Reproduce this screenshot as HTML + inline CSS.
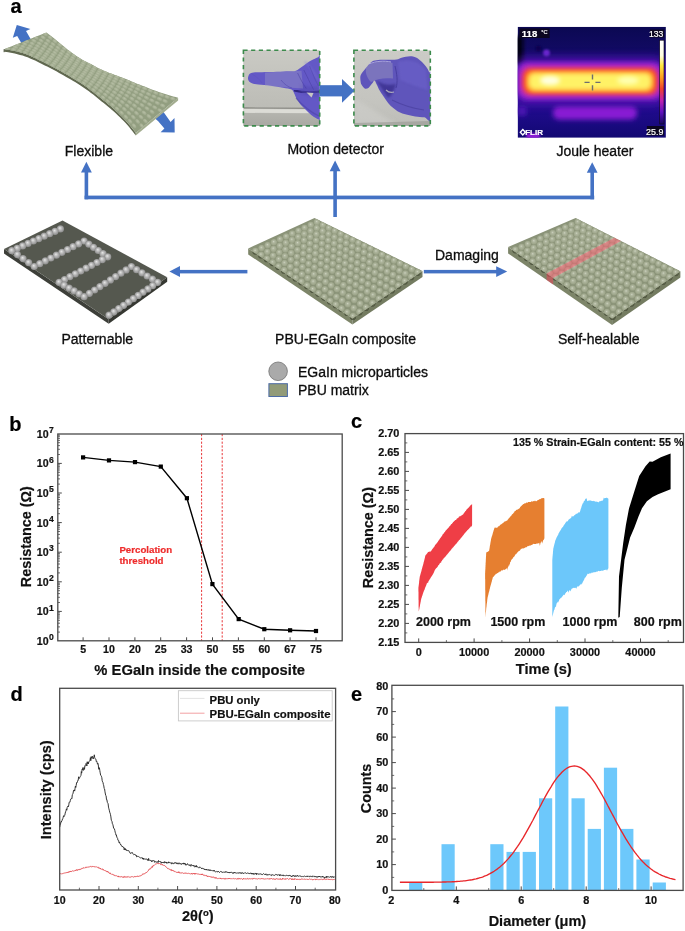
<!DOCTYPE html>
<html><head><meta charset="utf-8"><style>
html,body{margin:0;padding:0;background:#fff;}
svg{display:block;font-family:"Liberation Sans",sans-serif;will-change:transform;}
</style></head><body>
<svg width="685" height="931" viewBox="0 0 685 931">
<defs>
<radialGradient id="gball" cx="0.5" cy="0.5" r="0.55" fx="0.42" fy="0.36"><stop offset="0" stop-color="#e8e8e8"/><stop offset="0.45" stop-color="#b8b8b8"/><stop offset="1" stop-color="#858585"/></radialGradient>
<radialGradient id="gsage" cx="0.5" cy="0.5" r="0.55" fx="0.45" fy="0.38"><stop offset="0" stop-color="#cdd2c0"/><stop offset="0.3" stop-color="#b0b79f"/><stop offset="0.75" stop-color="#9ea68b"/><stop offset="1" stop-color="#8e967b"/></radialGradient>
<linearGradient id="gphoto" x1="0" y1="0" x2="0" y2="1"><stop offset="0" stop-color="#cbcbc6"/><stop offset="0.7" stop-color="#c4c4bf"/><stop offset="1" stop-color="#bdbdb8"/></linearGradient>
<linearGradient id="gthbg" x1="0" y1="0" x2="0" y2="1"><stop offset="0" stop-color="#0b0852"/><stop offset="0.2" stop-color="#110a62"/><stop offset="0.32" stop-color="#1e0a80"/><stop offset="0.65" stop-color="#260c96"/><stop offset="0.85" stop-color="#1a0a82"/><stop offset="1" stop-color="#120872"/></linearGradient>
<linearGradient id="gbar" x1="0" y1="0" x2="0" y2="1"><stop offset="0" stop-color="#ffffff"/><stop offset="0.18" stop-color="#fffde0"/><stop offset="0.3" stop-color="#ffe840"/><stop offset="0.45" stop-color="#ff9a20"/><stop offset="0.58" stop-color="#f04030"/><stop offset="0.72" stop-color="#c020b0"/><stop offset="0.86" stop-color="#6010c0"/><stop offset="1" stop-color="#180860"/></linearGradient>
<linearGradient id="gph1top" x1="0" y1="0" x2="0" y2="1"><stop offset="0" stop-color="#cacac4"/><stop offset="1" stop-color="#bcbcb6"/></linearGradient>
<linearGradient id="gph1bot" x1="0" y1="0" x2="0" y2="1"><stop offset="0" stop-color="#b4b4ae"/><stop offset="1" stop-color="#a8a8a2"/></linearGradient>
<radialGradient id="grib" cx="0.45" cy="0.4" r="0.6"><stop offset="0" stop-color="#b6bea4"/><stop offset="1" stop-color="#9aa588"/></radialGradient>
<radialGradient id="gsside" cx="0.5" cy="0.5" r="0.5" fx="0.5" fy="0.25"><stop offset="0" stop-color="#7a8268"/><stop offset="0.7" stop-color="#5e654c"/><stop offset="1" stop-color="#4c523d"/></radialGradient>
<filter id="blur03" x="-20%" y="-20%" width="140%" height="140%"><feGaussianBlur stdDeviation="0.35"/></filter>
<filter id="blur05" x="-20%" y="-20%" width="140%" height="140%"><feGaussianBlur stdDeviation="0.5"/></filter>
<filter id="blur1" x="-50%" y="-50%" width="200%" height="200%"><feGaussianBlur stdDeviation="1"/></filter>
<filter id="blur25" x="-50%" y="-50%" width="200%" height="200%"><feGaussianBlur stdDeviation="2.6"/></filter>
<filter id="blur4" x="-50%" y="-50%" width="200%" height="200%"><feGaussianBlur stdDeviation="4"/></filter>
<filter id="blur2" x="-50%" y="-50%" width="200%" height="200%"><feGaussianBlur stdDeviation="2"/></filter>
</defs>
<rect width="685" height="931" fill="#fff"/>
<text x="10.6" y="13.2" font-size="20" font-weight="bold" text-anchor="start" fill="#000"  stroke="#000" stroke-width="0.2">a</text>
<rect x="84.6" y="195.6" width="509.6" height="3.7" fill="#4472c4" />
<rect x="84.6" y="170.8" width="3.6" height="28.5" fill="#4472c4" />
<polygon points="86.4,161.8 81.0,172.4 91.8,172.4" fill="#4472c4" />
<rect x="333.3" y="169.6" width="3.6" height="47.4" fill="#4472c4" />
<polygon points="335.1,160.6 329.7,171.2 340.5,171.2" fill="#4472c4" />
<rect x="590.4" y="171.2" width="3.6" height="28.1" fill="#4472c4" />
<polygon points="592.2,162.2 586.8,172.8 597.6,172.8" fill="#4472c4" />
<rect x="178.0" y="269.9" width="69.4" height="3.5" fill="#4472c4" />
<polygon points="169.4,271.6 180.0,266.0 180.0,277.0" fill="#4472c4" />
<rect x="423.8" y="269.9" width="73.4" height="3.5" fill="#4472c4" />
<polygon points="507.2,271.6 496.2,266.2 496.2,277.0" fill="#4472c4" />
<text x="64.8" y="155.9" font-size="14" font-weight="normal" text-anchor="start" fill="#0d0d0d" stroke="#0d0d0d" stroke-width="0.3">Flexible</text>
<text x="287.4" y="153.8" font-size="14" font-weight="normal" text-anchor="start" fill="#0d0d0d" stroke="#0d0d0d" stroke-width="0.3">Motion detector</text>
<text x="556.4" y="155.5" font-size="14" font-weight="normal" text-anchor="start" fill="#0d0d0d" stroke="#0d0d0d" stroke-width="0.3">Joule heater</text>
<text x="435.0" y="259.6" font-size="14" font-weight="normal" text-anchor="start" fill="#0d0d0d" stroke="#0d0d0d" stroke-width="0.3">Damaging</text>
<text x="61.5" y="344.1" font-size="14" font-weight="normal" text-anchor="start" fill="#0d0d0d" stroke="#0d0d0d" stroke-width="0.3">Patternable</text>
<text x="275.1" y="344.2" font-size="14" font-weight="normal" text-anchor="start" fill="#0d0d0d" stroke="#0d0d0d" stroke-width="0.3">PBU-EGaIn composite</text>
<text x="557.9" y="343.8" font-size="14" font-weight="normal" text-anchor="start" fill="#0d0d0d" stroke="#0d0d0d" stroke-width="0.3">Self-healable</text>
<text x="298.0" y="377.0" font-size="14" font-weight="normal" text-anchor="start" fill="#0d0d0d" stroke="#0d0d0d" stroke-width="0.3">EGaIn microparticles</text>
<text x="298.0" y="394.9" font-size="14" font-weight="normal" text-anchor="start" fill="#0d0d0d" stroke="#0d0d0d" stroke-width="0.3">PBU matrix</text>
<circle cx="278.1" cy="371.3" r="9.3" fill="#aaaaaa" stroke="#727272" stroke-width="0.8"/>
<rect x="268.9" y="383.7" width="18.5" height="12.8" fill="#929b78" stroke="#4d6ca6" stroke-width="1"/>
<polygon points="16.8,25.1 30.4,29.1 26.0,31.0 31.5,40.5 22.5,45.0 17.2,35.9 12.8,37.8" fill="#4472c4" />
<polygon points="155.0,118.5 163.5,112.0 170.6,121.9 174.5,118.1 174.7,132.6 160.6,132.3 164.4,128.4 158.0,121.0" fill="#4472c4" />
<polygon points="4.1,49.2 6.8,49.5 9.5,50.0 12.2,50.5 14.8,51.0 17.4,51.6 20.0,52.3 22.6,53.0 25.1,53.8 27.6,54.7 30.1,55.8 32.6,56.9 35.1,58.0 37.5,59.2 39.9,60.4 42.4,61.6 44.8,62.8 47.2,64.0 49.6,65.2 52.0,66.4 54.4,67.7 56.8,69.0 59.1,70.3 61.5,71.6 63.8,72.9 66.2,74.3 68.5,75.6 70.8,77.0 73.2,78.4 75.5,79.7 77.8,81.2 80.1,82.6 82.3,84.1 84.5,85.6 86.7,87.1 88.9,88.7 91.0,90.4 93.2,92.0 95.3,93.7 97.4,95.4 99.5,97.1 101.6,98.8 103.7,100.5 105.8,102.1 107.9,103.9 110.0,105.6 112.0,107.3 114.1,109.1 116.0,110.9 118.0,112.8 119.9,114.7 121.8,116.6 123.7,118.5 125.6,120.5 127.4,122.5 129.1,124.5 130.8,126.6 132.5,128.7 134.2,130.8 135.8,133.0 135.8,135.6 134.2,133.4 132.5,131.3 130.8,129.2 129.1,127.1 127.4,125.1 125.6,123.1 123.7,121.1 121.8,119.2 119.9,117.3 118.0,115.4 116.0,113.5 114.1,111.7 112.0,109.9 110.0,108.2 107.9,106.5 105.8,104.7 103.7,103.1 101.6,101.4 99.5,99.7 97.4,98.0 95.3,96.3 93.2,94.6 91.0,93.0 88.9,91.3 86.7,89.7 84.5,88.2 82.3,86.7 80.1,85.2 77.8,83.8 75.5,82.3 73.2,81.0 70.8,79.6 68.5,78.2 66.2,76.9 63.8,75.5 61.5,74.2 59.1,72.9 56.8,71.6 54.4,70.3 52.0,69.0 49.6,67.8 47.2,66.6 44.8,65.4 42.4,64.2 39.9,63.0 37.5,61.8 35.1,60.6 32.6,59.5 30.1,58.4 27.6,57.3 25.1,56.4 22.6,55.6 20.0,54.9 17.4,54.2 14.8,53.6 12.2,53.1 9.5,52.6 6.8,52.1 4.1,51.8" fill="#60684f" />
<polygon points="135.8,133.0 178.1,97.7 178.1,100.6 135.8,135.6" fill="#a3ad8f" />
<polygon points="46.4,32.4 48.4,33.9 50.4,35.5 52.3,37.1 54.3,38.6 56.3,40.2 58.2,41.8 60.2,43.4 62.1,45.0 64.0,46.6 66.0,48.2 67.9,49.8 69.9,51.3 71.9,52.8 74.0,54.3 76.0,55.7 78.1,57.1 80.3,58.5 82.4,59.8 84.6,60.9 86.9,62.1 89.2,63.2 91.4,64.3 93.6,65.4 95.8,66.7 98.0,68.0 100.2,69.1 102.5,70.1 104.8,71.1 107.2,72.0 109.5,72.9 111.9,73.8 114.3,74.7 116.6,75.5 119.0,76.4 121.3,77.3 123.7,78.2 126.0,79.1 128.3,80.1 130.7,81.0 133.0,82.0 135.3,82.9 137.7,83.9 140.0,84.8 142.3,85.7 144.7,86.6 147.0,87.6 149.4,88.5 151.7,89.4 154.1,90.3 156.4,91.1 158.8,92.0 161.2,92.8 163.6,93.5 166.0,94.3 168.4,95.0 170.8,95.7 173.2,96.4 175.7,97.1 178.1,97.7 135.8,133.0 134.2,130.8 132.5,128.7 130.8,126.6 129.1,124.5 127.4,122.5 125.6,120.5 123.7,118.5 121.8,116.6 119.9,114.7 118.0,112.8 116.0,110.9 114.1,109.1 112.0,107.3 110.0,105.6 107.9,103.9 105.8,102.1 103.7,100.5 101.6,98.8 99.5,97.1 97.4,95.4 95.3,93.7 93.2,92.0 91.0,90.4 88.9,88.7 86.7,87.1 84.5,85.6 82.3,84.1 80.1,82.6 77.8,81.2 75.5,79.7 73.2,78.4 70.8,77.0 68.5,75.6 66.2,74.3 63.8,72.9 61.5,71.6 59.1,70.3 56.8,69.0 54.4,67.7 52.0,66.4 49.6,65.2 47.2,64.0 44.8,62.8 42.4,61.6 39.9,60.4 37.5,59.2 35.1,58.0 32.6,56.9 30.1,55.8 27.6,54.7 25.1,53.8 22.6,53.0 20.0,52.3 17.4,51.6 14.8,51.0 12.2,50.5 9.5,50.0 6.8,49.5 4.1,49.2" fill="#929e80" id="ribtop"/>
<clipPath id="ribclip"><polygon points="46.4,32.4 48.4,33.9 50.4,35.5 52.3,37.1 54.3,38.6 56.3,40.2 58.2,41.8 60.2,43.4 62.1,45.0 64.0,46.6 66.0,48.2 67.9,49.8 69.9,51.3 71.9,52.8 74.0,54.3 76.0,55.7 78.1,57.1 80.3,58.5 82.4,59.8 84.6,60.9 86.9,62.1 89.2,63.2 91.4,64.3 93.6,65.4 95.8,66.7 98.0,68.0 100.2,69.1 102.5,70.1 104.8,71.1 107.2,72.0 109.5,72.9 111.9,73.8 114.3,74.7 116.6,75.5 119.0,76.4 121.3,77.3 123.7,78.2 126.0,79.1 128.3,80.1 130.7,81.0 133.0,82.0 135.3,82.9 137.7,83.9 140.0,84.8 142.3,85.7 144.7,86.6 147.0,87.6 149.4,88.5 151.7,89.4 154.1,90.3 156.4,91.1 158.8,92.0 161.2,92.8 163.6,93.5 166.0,94.3 168.4,95.0 170.8,95.7 173.2,96.4 175.7,97.1 178.1,97.7 135.8,133.0 134.2,130.8 132.5,128.7 130.8,126.6 129.1,124.5 127.4,122.5 125.6,120.5 123.7,118.5 121.8,116.6 119.9,114.7 118.0,112.8 116.0,110.9 114.1,109.1 112.0,107.3 110.0,105.6 107.9,103.9 105.8,102.1 103.7,100.5 101.6,98.8 99.5,97.1 97.4,95.4 95.3,93.7 93.2,92.0 91.0,90.4 88.9,88.7 86.7,87.1 84.5,85.6 82.3,84.1 80.1,82.6 77.8,81.2 75.5,79.7 73.2,78.4 70.8,77.0 68.5,75.6 66.2,74.3 63.8,72.9 61.5,71.6 59.1,70.3 56.8,69.0 54.4,67.7 52.0,66.4 49.6,65.2 47.2,64.0 44.8,62.8 42.4,61.6 39.9,60.4 37.5,59.2 35.1,58.0 32.6,56.9 30.1,55.8 27.6,54.7 25.1,53.8 22.6,53.0 20.0,52.3 17.4,51.6 14.8,51.0 12.2,50.5 9.5,50.0 6.8,49.5 4.1,49.2"/></clipPath>
<g clip-path="url(#ribclip)">
<ellipse cx="45.3" cy="34.2" rx="2.9" ry="1.8" fill="url(#grib)" transform="rotate(36 45.3 34.2)"/>
<ellipse cx="50.1" cy="37.8" rx="2.9" ry="1.8" fill="url(#grib)" transform="rotate(37 50.1 37.8)"/>
<ellipse cx="54.9" cy="41.4" rx="2.9" ry="1.8" fill="url(#grib)" transform="rotate(37 54.9 41.4)"/>
<ellipse cx="59.6" cy="45.1" rx="2.9" ry="1.8" fill="url(#grib)" transform="rotate(39 59.6 45.1)"/>
<ellipse cx="64.3" cy="48.9" rx="2.9" ry="1.8" fill="url(#grib)" transform="rotate(38 64.3 48.9)"/>
<ellipse cx="69.1" cy="52.5" rx="2.9" ry="1.8" fill="url(#grib)" transform="rotate(36 69.1 52.5)"/>
<ellipse cx="74.0" cy="55.9" rx="2.9" ry="1.8" fill="url(#grib)" transform="rotate(34 74.0 55.9)"/>
<ellipse cx="79.0" cy="59.1" rx="2.9" ry="1.8" fill="url(#grib)" transform="rotate(30 79.0 59.1)"/>
<ellipse cx="84.3" cy="62.0" rx="2.9" ry="1.8" fill="url(#grib)" transform="rotate(27 84.3 62.0)"/>
<ellipse cx="89.7" cy="64.6" rx="2.9" ry="1.8" fill="url(#grib)" transform="rotate(28 89.7 64.6)"/>
<ellipse cx="94.9" cy="67.6" rx="2.9" ry="1.8" fill="url(#grib)" transform="rotate(30 94.9 67.6)"/>
<ellipse cx="100.3" cy="70.3" rx="2.9" ry="1.8" fill="url(#grib)" transform="rotate(25 100.3 70.3)"/>
<ellipse cx="105.8" cy="72.6" rx="2.9" ry="1.8" fill="url(#grib)" transform="rotate(21 105.8 72.6)"/>
<ellipse cx="111.4" cy="74.8" rx="2.9" ry="1.8" fill="url(#grib)" transform="rotate(21 111.4 74.8)"/>
<ellipse cx="117.0" cy="76.9" rx="2.9" ry="1.8" fill="url(#grib)" transform="rotate(21 117.0 76.9)"/>
<ellipse cx="122.6" cy="79.2" rx="2.9" ry="1.8" fill="url(#grib)" transform="rotate(23 122.6 79.2)"/>
<ellipse cx="128.1" cy="81.5" rx="2.9" ry="1.8" fill="url(#grib)" transform="rotate(23 128.1 81.5)"/>
<ellipse cx="133.6" cy="83.9" rx="2.9" ry="1.8" fill="url(#grib)" transform="rotate(23 133.6 83.9)"/>
<ellipse cx="139.1" cy="86.2" rx="2.9" ry="1.8" fill="url(#grib)" transform="rotate(23 139.1 86.2)"/>
<ellipse cx="144.7" cy="88.5" rx="2.9" ry="1.8" fill="url(#grib)" transform="rotate(22 144.7 88.5)"/>
<ellipse cx="150.2" cy="90.8" rx="2.9" ry="1.8" fill="url(#grib)" transform="rotate(22 150.2 90.8)"/>
<ellipse cx="155.8" cy="93.0" rx="2.9" ry="1.8" fill="url(#grib)" transform="rotate(21 155.8 93.0)"/>
<ellipse cx="161.5" cy="95.0" rx="2.9" ry="1.8" fill="url(#grib)" transform="rotate(19 161.5 95.0)"/>
<ellipse cx="167.1" cy="97.0" rx="2.9" ry="1.8" fill="url(#grib)" transform="rotate(18 167.1 97.0)"/>
<ellipse cx="172.8" cy="98.8" rx="2.9" ry="1.8" fill="url(#grib)" transform="rotate(17 172.8 98.8)"/>
<ellipse cx="43.1" cy="37.6" rx="2.9" ry="1.8" fill="url(#grib)" transform="rotate(33 43.1 37.6)"/>
<ellipse cx="48.1" cy="41.0" rx="2.9" ry="1.8" fill="url(#grib)" transform="rotate(34 48.1 41.0)"/>
<ellipse cx="53.1" cy="44.4" rx="2.9" ry="1.8" fill="url(#grib)" transform="rotate(35 53.1 44.4)"/>
<ellipse cx="57.9" cy="47.9" rx="2.9" ry="1.8" fill="url(#grib)" transform="rotate(37 57.9 47.9)"/>
<ellipse cx="62.7" cy="51.5" rx="2.9" ry="1.8" fill="url(#grib)" transform="rotate(35 62.7 51.5)"/>
<ellipse cx="67.7" cy="54.9" rx="2.9" ry="1.8" fill="url(#grib)" transform="rotate(34 67.7 54.9)"/>
<ellipse cx="72.7" cy="58.2" rx="2.9" ry="1.8" fill="url(#grib)" transform="rotate(31 72.7 58.2)"/>
<ellipse cx="77.9" cy="61.2" rx="2.9" ry="1.8" fill="url(#grib)" transform="rotate(28 77.9 61.2)"/>
<ellipse cx="83.2" cy="63.9" rx="2.9" ry="1.8" fill="url(#grib)" transform="rotate(26 83.2 63.9)"/>
<ellipse cx="88.6" cy="66.6" rx="2.9" ry="1.8" fill="url(#grib)" transform="rotate(30 88.6 66.6)"/>
<ellipse cx="93.8" cy="69.6" rx="2.9" ry="1.8" fill="url(#grib)" transform="rotate(28 93.8 69.6)"/>
<ellipse cx="99.2" cy="72.2" rx="2.9" ry="1.8" fill="url(#grib)" transform="rotate(24 99.2 72.2)"/>
<ellipse cx="104.7" cy="74.5" rx="2.9" ry="1.8" fill="url(#grib)" transform="rotate(22 104.7 74.5)"/>
<ellipse cx="110.3" cy="76.8" rx="2.9" ry="1.8" fill="url(#grib)" transform="rotate(22 110.3 76.8)"/>
<ellipse cx="115.8" cy="79.1" rx="2.9" ry="1.8" fill="url(#grib)" transform="rotate(24 115.8 79.1)"/>
<ellipse cx="121.3" cy="81.6" rx="2.9" ry="1.8" fill="url(#grib)" transform="rotate(25 121.3 81.6)"/>
<ellipse cx="126.7" cy="84.2" rx="2.9" ry="1.8" fill="url(#grib)" transform="rotate(25 126.7 84.2)"/>
<ellipse cx="132.1" cy="86.7" rx="2.9" ry="1.8" fill="url(#grib)" transform="rotate(25 132.1 86.7)"/>
<ellipse cx="137.6" cy="89.2" rx="2.9" ry="1.8" fill="url(#grib)" transform="rotate(24 137.6 89.2)"/>
<ellipse cx="143.0" cy="91.7" rx="2.9" ry="1.8" fill="url(#grib)" transform="rotate(25 143.0 91.7)"/>
<ellipse cx="148.5" cy="94.2" rx="2.9" ry="1.8" fill="url(#grib)" transform="rotate(24 148.5 94.2)"/>
<ellipse cx="154.0" cy="96.6" rx="2.9" ry="1.8" fill="url(#grib)" transform="rotate(23 154.0 96.6)"/>
<ellipse cx="159.5" cy="99.0" rx="2.9" ry="1.8" fill="url(#grib)" transform="rotate(22 159.5 99.0)"/>
<ellipse cx="165.1" cy="101.2" rx="2.9" ry="1.8" fill="url(#grib)" transform="rotate(22 165.1 101.2)"/>
<ellipse cx="36.0" cy="37.8" rx="2.9" ry="1.8" fill="url(#grib)" transform="rotate(29 36.0 37.8)"/>
<ellipse cx="41.2" cy="40.8" rx="2.9" ry="1.8" fill="url(#grib)" transform="rotate(31 41.2 40.8)"/>
<ellipse cx="46.3" cy="43.9" rx="2.9" ry="1.8" fill="url(#grib)" transform="rotate(32 46.3 43.9)"/>
<ellipse cx="51.4" cy="47.1" rx="2.9" ry="1.8" fill="url(#grib)" transform="rotate(34 51.4 47.1)"/>
<ellipse cx="56.3" cy="50.5" rx="2.9" ry="1.8" fill="url(#grib)" transform="rotate(35 56.3 50.5)"/>
<ellipse cx="61.3" cy="53.9" rx="2.9" ry="1.8" fill="url(#grib)" transform="rotate(33 61.3 53.9)"/>
<ellipse cx="66.3" cy="57.1" rx="2.9" ry="1.8" fill="url(#grib)" transform="rotate(32 66.3 57.1)"/>
<ellipse cx="71.5" cy="60.2" rx="2.9" ry="1.8" fill="url(#grib)" transform="rotate(30 71.5 60.2)"/>
<ellipse cx="76.7" cy="63.1" rx="2.9" ry="1.8" fill="url(#grib)" transform="rotate(27 76.7 63.1)"/>
<ellipse cx="82.1" cy="65.8" rx="2.9" ry="1.8" fill="url(#grib)" transform="rotate(27 82.1 65.8)"/>
<ellipse cx="87.3" cy="68.7" rx="2.9" ry="1.8" fill="url(#grib)" transform="rotate(30 87.3 68.7)"/>
<ellipse cx="92.6" cy="71.5" rx="2.9" ry="1.8" fill="url(#grib)" transform="rotate(26 92.6 71.5)"/>
<ellipse cx="98.1" cy="74.0" rx="2.9" ry="1.8" fill="url(#grib)" transform="rotate(24 98.1 74.0)"/>
<ellipse cx="103.5" cy="76.5" rx="2.9" ry="1.8" fill="url(#grib)" transform="rotate(24 103.5 76.5)"/>
<ellipse cx="109.0" cy="78.9" rx="2.9" ry="1.8" fill="url(#grib)" transform="rotate(25 109.0 78.9)"/>
<ellipse cx="114.4" cy="81.5" rx="2.9" ry="1.8" fill="url(#grib)" transform="rotate(26 114.4 81.5)"/>
<ellipse cx="119.8" cy="84.2" rx="2.9" ry="1.8" fill="url(#grib)" transform="rotate(27 119.8 84.2)"/>
<ellipse cx="125.1" cy="86.9" rx="2.9" ry="1.8" fill="url(#grib)" transform="rotate(27 125.1 86.9)"/>
<ellipse cx="130.5" cy="89.6" rx="2.9" ry="1.8" fill="url(#grib)" transform="rotate(27 130.5 89.6)"/>
<ellipse cx="135.9" cy="92.3" rx="2.9" ry="1.8" fill="url(#grib)" transform="rotate(27 135.9 92.3)"/>
<ellipse cx="141.2" cy="95.0" rx="2.9" ry="1.8" fill="url(#grib)" transform="rotate(27 141.2 95.0)"/>
<ellipse cx="146.5" cy="97.8" rx="2.9" ry="1.8" fill="url(#grib)" transform="rotate(27 146.5 97.8)"/>
<ellipse cx="151.9" cy="100.5" rx="2.9" ry="1.8" fill="url(#grib)" transform="rotate(26 151.9 100.5)"/>
<ellipse cx="157.3" cy="103.1" rx="2.9" ry="1.8" fill="url(#grib)" transform="rotate(26 157.3 103.1)"/>
<ellipse cx="162.7" cy="105.7" rx="2.9" ry="1.8" fill="url(#grib)" transform="rotate(26 162.7 105.7)"/>
<ellipse cx="34.0" cy="40.9" rx="2.9" ry="1.8" fill="url(#grib)" transform="rotate(26 34.0 40.9)"/>
<ellipse cx="39.3" cy="43.7" rx="2.9" ry="1.8" fill="url(#grib)" transform="rotate(28 39.3 43.7)"/>
<ellipse cx="44.6" cy="46.5" rx="2.9" ry="1.8" fill="url(#grib)" transform="rotate(30 44.6 46.5)"/>
<ellipse cx="49.7" cy="49.7" rx="2.9" ry="1.8" fill="url(#grib)" transform="rotate(33 49.7 49.7)"/>
<ellipse cx="54.8" cy="52.9" rx="2.9" ry="1.8" fill="url(#grib)" transform="rotate(33 54.8 52.9)"/>
<ellipse cx="59.8" cy="56.1" rx="2.9" ry="1.8" fill="url(#grib)" transform="rotate(32 59.8 56.1)"/>
<ellipse cx="65.0" cy="59.2" rx="2.9" ry="1.8" fill="url(#grib)" transform="rotate(30 65.0 59.2)"/>
<ellipse cx="70.2" cy="62.2" rx="2.9" ry="1.8" fill="url(#grib)" transform="rotate(28 70.2 62.2)"/>
<ellipse cx="75.5" cy="64.9" rx="2.9" ry="1.8" fill="url(#grib)" transform="rotate(27 75.5 64.9)"/>
<ellipse cx="80.8" cy="67.7" rx="2.9" ry="1.8" fill="url(#grib)" transform="rotate(29 80.8 67.7)"/>
<ellipse cx="86.1" cy="70.6" rx="2.9" ry="1.8" fill="url(#grib)" transform="rotate(28 86.1 70.6)"/>
<ellipse cx="91.4" cy="73.4" rx="2.9" ry="1.8" fill="url(#grib)" transform="rotate(26 91.4 73.4)"/>
<ellipse cx="96.8" cy="76.0" rx="2.9" ry="1.8" fill="url(#grib)" transform="rotate(25 96.8 76.0)"/>
<ellipse cx="102.2" cy="78.5" rx="2.9" ry="1.8" fill="url(#grib)" transform="rotate(26 102.2 78.5)"/>
<ellipse cx="107.6" cy="81.2" rx="2.9" ry="1.8" fill="url(#grib)" transform="rotate(27 107.6 81.2)"/>
<ellipse cx="112.9" cy="84.0" rx="2.9" ry="1.8" fill="url(#grib)" transform="rotate(29 112.9 84.0)"/>
<ellipse cx="118.2" cy="86.9" rx="2.9" ry="1.8" fill="url(#grib)" transform="rotate(29 118.2 86.9)"/>
<ellipse cx="123.4" cy="89.8" rx="2.9" ry="1.8" fill="url(#grib)" transform="rotate(29 123.4 89.8)"/>
<ellipse cx="128.7" cy="92.6" rx="2.9" ry="1.8" fill="url(#grib)" transform="rotate(29 128.7 92.6)"/>
<ellipse cx="134.0" cy="95.5" rx="2.9" ry="1.8" fill="url(#grib)" transform="rotate(29 134.0 95.5)"/>
<ellipse cx="139.2" cy="98.5" rx="2.9" ry="1.8" fill="url(#grib)" transform="rotate(30 139.2 98.5)"/>
<ellipse cx="144.4" cy="101.5" rx="2.9" ry="1.8" fill="url(#grib)" transform="rotate(30 144.4 101.5)"/>
<ellipse cx="149.6" cy="104.5" rx="2.9" ry="1.8" fill="url(#grib)" transform="rotate(30 149.6 104.5)"/>
<ellipse cx="154.8" cy="107.5" rx="2.9" ry="1.8" fill="url(#grib)" transform="rotate(30 154.8 107.5)"/>
<ellipse cx="160.0" cy="110.5" rx="2.9" ry="1.8" fill="url(#grib)" transform="rotate(30 160.0 110.5)"/>
<ellipse cx="26.6" cy="41.4" rx="2.9" ry="1.8" fill="url(#grib)" transform="rotate(22 26.6 41.4)"/>
<ellipse cx="32.2" cy="43.7" rx="2.9" ry="1.8" fill="url(#grib)" transform="rotate(25 32.2 43.7)"/>
<ellipse cx="37.6" cy="46.3" rx="2.9" ry="1.8" fill="url(#grib)" transform="rotate(26 37.6 46.3)"/>
<ellipse cx="42.9" cy="49.0" rx="2.9" ry="1.8" fill="url(#grib)" transform="rotate(29 42.9 49.0)"/>
<ellipse cx="48.1" cy="52.0" rx="2.9" ry="1.8" fill="url(#grib)" transform="rotate(31 48.1 52.0)"/>
<ellipse cx="53.2" cy="55.1" rx="2.9" ry="1.8" fill="url(#grib)" transform="rotate(31 53.2 55.1)"/>
<ellipse cx="58.4" cy="58.2" rx="2.9" ry="1.8" fill="url(#grib)" transform="rotate(30 58.4 58.2)"/>
<ellipse cx="63.6" cy="61.2" rx="2.9" ry="1.8" fill="url(#grib)" transform="rotate(29 63.6 61.2)"/>
<ellipse cx="68.9" cy="64.0" rx="2.9" ry="1.8" fill="url(#grib)" transform="rotate(27 68.9 64.0)"/>
<ellipse cx="74.2" cy="66.7" rx="2.9" ry="1.8" fill="url(#grib)" transform="rotate(28 74.2 66.7)"/>
<ellipse cx="79.5" cy="69.6" rx="2.9" ry="1.8" fill="url(#grib)" transform="rotate(30 79.5 69.6)"/>
<ellipse cx="84.7" cy="72.6" rx="2.9" ry="1.8" fill="url(#grib)" transform="rotate(27 84.7 72.6)"/>
<ellipse cx="90.1" cy="75.3" rx="2.9" ry="1.8" fill="url(#grib)" transform="rotate(27 90.1 75.3)"/>
<ellipse cx="95.5" cy="78.0" rx="2.9" ry="1.8" fill="url(#grib)" transform="rotate(26 95.5 78.0)"/>
<ellipse cx="100.8" cy="80.7" rx="2.9" ry="1.8" fill="url(#grib)" transform="rotate(28 100.8 80.7)"/>
<ellipse cx="106.1" cy="83.5" rx="2.9" ry="1.8" fill="url(#grib)" transform="rotate(30 106.1 83.5)"/>
<ellipse cx="111.3" cy="86.6" rx="2.9" ry="1.8" fill="url(#grib)" transform="rotate(31 111.3 86.6)"/>
<ellipse cx="116.4" cy="89.6" rx="2.9" ry="1.8" fill="url(#grib)" transform="rotate(31 116.4 89.6)"/>
<ellipse cx="121.6" cy="92.7" rx="2.9" ry="1.8" fill="url(#grib)" transform="rotate(31 121.6 92.7)"/>
<ellipse cx="126.7" cy="95.8" rx="2.9" ry="1.8" fill="url(#grib)" transform="rotate(31 126.7 95.8)"/>
<ellipse cx="131.9" cy="98.9" rx="2.9" ry="1.8" fill="url(#grib)" transform="rotate(32 131.9 98.9)"/>
<ellipse cx="136.9" cy="102.1" rx="2.9" ry="1.8" fill="url(#grib)" transform="rotate(33 136.9 102.1)"/>
<ellipse cx="142.0" cy="105.3" rx="2.9" ry="1.8" fill="url(#grib)" transform="rotate(33 142.0 105.3)"/>
<ellipse cx="147.0" cy="108.6" rx="2.9" ry="1.8" fill="url(#grib)" transform="rotate(34 147.0 108.6)"/>
<ellipse cx="152.0" cy="111.9" rx="2.9" ry="1.8" fill="url(#grib)" transform="rotate(34 152.0 111.9)"/>
<ellipse cx="24.8" cy="44.1" rx="2.9" ry="1.8" fill="url(#grib)" transform="rotate(20 24.8 44.1)"/>
<ellipse cx="30.4" cy="46.3" rx="2.9" ry="1.8" fill="url(#grib)" transform="rotate(23 30.4 46.3)"/>
<ellipse cx="35.9" cy="48.7" rx="2.9" ry="1.8" fill="url(#grib)" transform="rotate(24 35.9 48.7)"/>
<ellipse cx="41.3" cy="51.3" rx="2.9" ry="1.8" fill="url(#grib)" transform="rotate(28 41.3 51.3)"/>
<ellipse cx="46.5" cy="54.2" rx="2.9" ry="1.8" fill="url(#grib)" transform="rotate(30 46.5 54.2)"/>
<ellipse cx="51.7" cy="57.2" rx="2.9" ry="1.8" fill="url(#grib)" transform="rotate(30 51.7 57.2)"/>
<ellipse cx="57.0" cy="60.2" rx="2.9" ry="1.8" fill="url(#grib)" transform="rotate(29 57.0 60.2)"/>
<ellipse cx="62.2" cy="63.0" rx="2.9" ry="1.8" fill="url(#grib)" transform="rotate(28 62.2 63.0)"/>
<ellipse cx="67.6" cy="65.8" rx="2.9" ry="1.8" fill="url(#grib)" transform="rotate(27 67.6 65.8)"/>
<ellipse cx="72.9" cy="68.6" rx="2.9" ry="1.8" fill="url(#grib)" transform="rotate(29 72.9 68.6)"/>
<ellipse cx="78.1" cy="71.6" rx="2.9" ry="1.8" fill="url(#grib)" transform="rotate(30 78.1 71.6)"/>
<ellipse cx="83.4" cy="74.4" rx="2.9" ry="1.8" fill="url(#grib)" transform="rotate(28 83.4 74.4)"/>
<ellipse cx="88.7" cy="77.2" rx="2.9" ry="1.8" fill="url(#grib)" transform="rotate(28 88.7 77.2)"/>
<ellipse cx="94.0" cy="80.0" rx="2.9" ry="1.8" fill="url(#grib)" transform="rotate(28 94.0 80.0)"/>
<ellipse cx="99.2" cy="82.9" rx="2.9" ry="1.8" fill="url(#grib)" transform="rotate(30 99.2 82.9)"/>
<ellipse cx="104.4" cy="86.0" rx="2.9" ry="1.8" fill="url(#grib)" transform="rotate(32 104.4 86.0)"/>
<ellipse cx="109.4" cy="89.2" rx="2.9" ry="1.8" fill="url(#grib)" transform="rotate(33 109.4 89.2)"/>
<ellipse cx="114.5" cy="92.5" rx="2.9" ry="1.8" fill="url(#grib)" transform="rotate(32 114.5 92.5)"/>
<ellipse cx="119.5" cy="95.7" rx="2.9" ry="1.8" fill="url(#grib)" transform="rotate(33 119.5 95.7)"/>
<ellipse cx="124.6" cy="98.9" rx="2.9" ry="1.8" fill="url(#grib)" transform="rotate(33 124.6 98.9)"/>
<ellipse cx="129.6" cy="102.3" rx="2.9" ry="1.8" fill="url(#grib)" transform="rotate(35 129.6 102.3)"/>
<ellipse cx="134.5" cy="105.7" rx="2.9" ry="1.8" fill="url(#grib)" transform="rotate(36 134.5 105.7)"/>
<ellipse cx="139.3" cy="109.3" rx="2.9" ry="1.8" fill="url(#grib)" transform="rotate(36 139.3 109.3)"/>
<ellipse cx="144.1" cy="112.9" rx="2.9" ry="1.8" fill="url(#grib)" transform="rotate(37 144.1 112.9)"/>
<ellipse cx="148.9" cy="116.5" rx="2.9" ry="1.8" fill="url(#grib)" transform="rotate(39 148.9 116.5)"/>
<ellipse cx="17.3" cy="44.9" rx="2.9" ry="1.8" fill="url(#grib)" transform="rotate(15 17.3 44.9)"/>
<ellipse cx="23.0" cy="46.7" rx="2.9" ry="1.8" fill="url(#grib)" transform="rotate(18 23.0 46.7)"/>
<ellipse cx="28.7" cy="48.6" rx="2.9" ry="1.8" fill="url(#grib)" transform="rotate(21 28.7 48.6)"/>
<ellipse cx="34.3" cy="50.9" rx="2.9" ry="1.8" fill="url(#grib)" transform="rotate(24 34.3 50.9)"/>
<ellipse cx="39.7" cy="53.5" rx="2.9" ry="1.8" fill="url(#grib)" transform="rotate(27 39.7 53.5)"/>
<ellipse cx="45.0" cy="56.3" rx="2.9" ry="1.8" fill="url(#grib)" transform="rotate(29 45.0 56.3)"/>
<ellipse cx="50.2" cy="59.2" rx="2.9" ry="1.8" fill="url(#grib)" transform="rotate(28 50.2 59.2)"/>
<ellipse cx="55.5" cy="62.0" rx="2.9" ry="1.8" fill="url(#grib)" transform="rotate(28 55.5 62.0)"/>
<ellipse cx="60.8" cy="64.8" rx="2.9" ry="1.8" fill="url(#grib)" transform="rotate(28 60.8 64.8)"/>
<ellipse cx="66.2" cy="67.6" rx="2.9" ry="1.8" fill="url(#grib)" transform="rotate(28 66.2 67.6)"/>
<ellipse cx="71.4" cy="70.5" rx="2.9" ry="1.8" fill="url(#grib)" transform="rotate(30 71.4 70.5)"/>
<ellipse cx="76.6" cy="73.4" rx="2.9" ry="1.8" fill="url(#grib)" transform="rotate(29 76.6 73.4)"/>
<ellipse cx="81.9" cy="76.3" rx="2.9" ry="1.8" fill="url(#grib)" transform="rotate(29 81.9 76.3)"/>
<ellipse cx="87.2" cy="79.2" rx="2.9" ry="1.8" fill="url(#grib)" transform="rotate(29 87.2 79.2)"/>
<ellipse cx="92.4" cy="82.2" rx="2.9" ry="1.8" fill="url(#grib)" transform="rotate(30 92.4 82.2)"/>
<ellipse cx="97.5" cy="85.3" rx="2.9" ry="1.8" fill="url(#grib)" transform="rotate(32 97.5 85.3)"/>
<ellipse cx="102.5" cy="88.6" rx="2.9" ry="1.8" fill="url(#grib)" transform="rotate(34 102.5 88.6)"/>
<ellipse cx="107.5" cy="92.0" rx="2.9" ry="1.8" fill="url(#grib)" transform="rotate(34 107.5 92.0)"/>
<ellipse cx="112.4" cy="95.4" rx="2.9" ry="1.8" fill="url(#grib)" transform="rotate(34 112.4 95.4)"/>
<ellipse cx="117.4" cy="98.7" rx="2.9" ry="1.8" fill="url(#grib)" transform="rotate(35 117.4 98.7)"/>
<ellipse cx="122.3" cy="102.2" rx="2.9" ry="1.8" fill="url(#grib)" transform="rotate(36 122.3 102.2)"/>
<ellipse cx="127.1" cy="105.8" rx="2.9" ry="1.8" fill="url(#grib)" transform="rotate(37 127.1 105.8)"/>
<ellipse cx="131.8" cy="109.5" rx="2.9" ry="1.8" fill="url(#grib)" transform="rotate(38 131.8 109.5)"/>
<ellipse cx="136.5" cy="113.3" rx="2.9" ry="1.8" fill="url(#grib)" transform="rotate(40 136.5 113.3)"/>
<ellipse cx="141.0" cy="117.2" rx="2.9" ry="1.8" fill="url(#grib)" transform="rotate(41 141.0 117.2)"/>
<ellipse cx="145.4" cy="121.2" rx="2.9" ry="1.8" fill="url(#grib)" transform="rotate(43 145.4 121.2)"/>
<ellipse cx="15.5" cy="47.4" rx="2.9" ry="1.8" fill="url(#grib)" transform="rotate(13 15.5 47.4)"/>
<ellipse cx="21.3" cy="48.9" rx="2.9" ry="1.8" fill="url(#grib)" transform="rotate(17 21.3 48.9)"/>
<ellipse cx="27.0" cy="50.8" rx="2.9" ry="1.8" fill="url(#grib)" transform="rotate(19 27.0 50.8)"/>
<ellipse cx="32.6" cy="52.9" rx="2.9" ry="1.8" fill="url(#grib)" transform="rotate(23 32.6 52.9)"/>
<ellipse cx="38.1" cy="55.5" rx="2.9" ry="1.8" fill="url(#grib)" transform="rotate(26 38.1 55.5)"/>
<ellipse cx="43.4" cy="58.2" rx="2.9" ry="1.8" fill="url(#grib)" transform="rotate(28 43.4 58.2)"/>
<ellipse cx="48.7" cy="61.0" rx="2.9" ry="1.8" fill="url(#grib)" transform="rotate(27 48.7 61.0)"/>
<ellipse cx="54.1" cy="63.8" rx="2.9" ry="1.8" fill="url(#grib)" transform="rotate(27 54.1 63.8)"/>
<ellipse cx="59.4" cy="66.5" rx="2.9" ry="1.8" fill="url(#grib)" transform="rotate(28 59.4 66.5)"/>
<ellipse cx="64.7" cy="69.4" rx="2.9" ry="1.8" fill="url(#grib)" transform="rotate(29 64.7 69.4)"/>
<ellipse cx="69.9" cy="72.3" rx="2.9" ry="1.8" fill="url(#grib)" transform="rotate(30 69.9 72.3)"/>
<ellipse cx="75.1" cy="75.3" rx="2.9" ry="1.8" fill="url(#grib)" transform="rotate(29 75.1 75.3)"/>
<ellipse cx="80.3" cy="78.2" rx="2.9" ry="1.8" fill="url(#grib)" transform="rotate(30 80.3 78.2)"/>
<ellipse cx="85.5" cy="81.2" rx="2.9" ry="1.8" fill="url(#grib)" transform="rotate(31 85.5 81.2)"/>
<ellipse cx="90.6" cy="84.4" rx="2.9" ry="1.8" fill="url(#grib)" transform="rotate(33 90.6 84.4)"/>
<ellipse cx="95.6" cy="87.7" rx="2.9" ry="1.8" fill="url(#grib)" transform="rotate(35 95.6 87.7)"/>
<ellipse cx="100.5" cy="91.2" rx="2.9" ry="1.8" fill="url(#grib)" transform="rotate(36 100.5 91.2)"/>
<ellipse cx="105.3" cy="94.8" rx="2.9" ry="1.8" fill="url(#grib)" transform="rotate(36 105.3 94.8)"/>
<ellipse cx="110.2" cy="98.3" rx="2.9" ry="1.8" fill="url(#grib)" transform="rotate(36 110.2 98.3)"/>
<ellipse cx="115.0" cy="101.9" rx="2.9" ry="1.8" fill="url(#grib)" transform="rotate(37 115.0 101.9)"/>
<ellipse cx="119.8" cy="105.5" rx="2.9" ry="1.8" fill="url(#grib)" transform="rotate(39 119.8 105.5)"/>
<ellipse cx="124.4" cy="109.3" rx="2.9" ry="1.8" fill="url(#grib)" transform="rotate(40 124.4 109.3)"/>
<ellipse cx="128.9" cy="113.3" rx="2.9" ry="1.8" fill="url(#grib)" transform="rotate(42 128.9 113.3)"/>
<ellipse cx="133.3" cy="117.3" rx="2.9" ry="1.8" fill="url(#grib)" transform="rotate(43 133.3 117.3)"/>
<ellipse cx="137.6" cy="121.6" rx="2.9" ry="1.8" fill="url(#grib)" transform="rotate(46 137.6 121.6)"/>
<ellipse cx="141.7" cy="125.9" rx="2.9" ry="1.8" fill="url(#grib)" transform="rotate(47 141.7 125.9)"/>
<ellipse cx="7.9" cy="48.5" rx="2.9" ry="1.8" fill="url(#grib)" transform="rotate(9 7.9 48.5)"/>
<ellipse cx="13.8" cy="49.6" rx="2.9" ry="1.8" fill="url(#grib)" transform="rotate(12 13.8 49.6)"/>
<ellipse cx="19.7" cy="51.0" rx="2.9" ry="1.8" fill="url(#grib)" transform="rotate(15 19.7 51.0)"/>
<ellipse cx="25.4" cy="52.7" rx="2.9" ry="1.8" fill="url(#grib)" transform="rotate(19 25.4 52.7)"/>
<ellipse cx="31.0" cy="54.9" rx="2.9" ry="1.8" fill="url(#grib)" transform="rotate(23 31.0 54.9)"/>
<ellipse cx="36.5" cy="57.4" rx="2.9" ry="1.8" fill="url(#grib)" transform="rotate(26 36.5 57.4)"/>
<ellipse cx="41.8" cy="60.1" rx="2.9" ry="1.8" fill="url(#grib)" transform="rotate(27 41.8 60.1)"/>
<ellipse cx="47.2" cy="62.7" rx="2.9" ry="1.8" fill="url(#grib)" transform="rotate(27 47.2 62.7)"/>
<ellipse cx="52.5" cy="65.5" rx="2.9" ry="1.8" fill="url(#grib)" transform="rotate(27 52.5 65.5)"/>
<ellipse cx="57.8" cy="68.3" rx="2.9" ry="1.8" fill="url(#grib)" transform="rotate(28 57.8 68.3)"/>
<ellipse cx="63.1" cy="71.2" rx="2.9" ry="1.8" fill="url(#grib)" transform="rotate(29 63.1 71.2)"/>
<ellipse cx="68.3" cy="74.1" rx="2.9" ry="1.8" fill="url(#grib)" transform="rotate(30 68.3 74.1)"/>
<ellipse cx="73.5" cy="77.1" rx="2.9" ry="1.8" fill="url(#grib)" transform="rotate(30 73.5 77.1)"/>
<ellipse cx="78.7" cy="80.2" rx="2.9" ry="1.8" fill="url(#grib)" transform="rotate(31 78.7 80.2)"/>
<ellipse cx="83.8" cy="83.4" rx="2.9" ry="1.8" fill="url(#grib)" transform="rotate(33 83.8 83.4)"/>
<ellipse cx="88.7" cy="86.7" rx="2.9" ry="1.8" fill="url(#grib)" transform="rotate(36 88.7 86.7)"/>
<ellipse cx="93.6" cy="90.2" rx="2.9" ry="1.8" fill="url(#grib)" transform="rotate(37 93.6 90.2)"/>
<ellipse cx="98.3" cy="93.9" rx="2.9" ry="1.8" fill="url(#grib)" transform="rotate(38 98.3 93.9)"/>
<ellipse cx="103.1" cy="97.6" rx="2.9" ry="1.8" fill="url(#grib)" transform="rotate(38 103.1 97.6)"/>
<ellipse cx="107.8" cy="101.3" rx="2.9" ry="1.8" fill="url(#grib)" transform="rotate(38 107.8 101.3)"/>
<ellipse cx="112.5" cy="105.0" rx="2.9" ry="1.8" fill="url(#grib)" transform="rotate(39 112.5 105.0)"/>
<ellipse cx="117.1" cy="108.9" rx="2.9" ry="1.8" fill="url(#grib)" transform="rotate(41 117.1 108.9)"/>
<ellipse cx="121.5" cy="112.9" rx="2.9" ry="1.8" fill="url(#grib)" transform="rotate(43 121.5 112.9)"/>
<ellipse cx="125.8" cy="117.1" rx="2.9" ry="1.8" fill="url(#grib)" transform="rotate(46 125.8 117.1)"/>
<ellipse cx="130.0" cy="121.4" rx="2.9" ry="1.8" fill="url(#grib)" transform="rotate(48 130.0 121.4)"/>
<ellipse cx="134.0" cy="125.9" rx="2.9" ry="1.8" fill="url(#grib)" transform="rotate(49 134.0 125.9)"/>
</g>
<line x1="4.1" y1="49.2" x2="4.1" y2="52.2" stroke="#59604b" stroke-width="1" />
<clipPath id="ph1"><rect x="243.4" y="50.2" width="76.3" height="75.7"/></clipPath>
<g clip-path="url(#ph1)">
<rect x="243.4" y="50.2" width="76.3" height="75.7" fill="url(#gphoto)"/>
<path d="M243,50 L321,50 L321,108 L243,108 Z" fill="url(#gph1top)" />
<path d="M243,107.9 L321,108.4" fill="none" stroke="#85857f" stroke-width="1.1" filter="url(#blur03)"/>
<path d="M243,109 L321,109.5 L321,113.3 L243,112.8 Z" fill="#dcdcd6" filter="url(#blur03)"/>
<path d="M243,113 L321,113.5 L321,127 L243,127 Z" fill="url(#gph1bot)" />
<path d="M248.0,78.0 C248.1,76.8 248.6,74.9 249.5,74.0 C250.4,73.1 251.4,72.7 253.5,72.4 C255.6,72.1 258.1,72.3 262.0,72.2 C265.9,72.1 272.3,72.0 276.8,71.8 C281.3,71.6 285.9,71.3 289.0,71.2 C292.1,71.1 293.4,71.5 295.2,71.0 C296.9,70.5 298.1,69.4 299.5,68.5 C300.9,67.6 302.3,66.6 303.8,65.5 C305.3,64.4 306.9,63.0 308.5,62.0 C310.1,61.0 311.9,60.1 313.6,59.3 C315.3,58.5 317.3,57.5 318.5,57.0 C319.7,56.5 320.6,46.0 321.0,56.5 C321.4,67.0 321.4,109.5 321.0,120.0 C320.6,130.5 319.7,119.8 318.5,119.3 C317.3,118.8 315.2,117.8 313.6,116.7 C312.0,115.7 310.4,114.3 309.0,113.0 C307.6,111.7 306.4,110.4 305.0,109.0 C303.6,107.6 301.8,106.1 300.5,104.5 C299.2,102.9 298.1,101.4 297.0,99.5 C295.9,97.6 294.9,94.7 294.0,93.0 C293.1,91.3 293.3,90.4 291.5,89.5 C289.7,88.6 286.5,88.4 283.0,87.8 C279.5,87.2 274.8,86.3 270.7,85.8 C266.6,85.3 261.5,85.0 258.4,84.6 C255.3,84.2 253.6,83.8 252.0,83.2 C250.4,82.6 249.5,81.9 248.8,81.0 C248.1,80.1 247.9,79.2 248.0,78.0 Z" fill="#6359c6" filter="url(#blur03)"/>
<path d="M294,90.5 C302,92.5 310,93 320,91.5" fill="none" stroke="#231a70" stroke-width="2" opacity="0.8" filter="url(#blur05)"/>
<path d="M300,84 C306,86 312,88 318,86 L320,96 C313,98 306,95 300,92 Z" fill="#5249b0" opacity="0.5" filter="url(#blur1)"/>
<path d="M296,98 C303,106 310,112 319,116" fill="none" stroke="#4b42a6" stroke-width="1.2" opacity="0.55" filter="url(#blur05)"/>
<path d="M306.5,92.5 L313.5,93.0 L311.5,97.5 Z" fill="#c7c7c2" filter="url(#blur03)"/>
<path d="M265,72.4 L301.5,70.8 L303,88.5 L265,86.0 Z" fill="#a4a2c4" opacity="0.35" filter="url(#blur05)"/>
<path d="M281,80 C284,84 288,87 292,88" fill="none" stroke="#4d44a8" stroke-width="1" opacity="0.5" filter="url(#blur05)"/>
<path d="M252,74 C256,76 260,80 262,83" fill="none" stroke="#5a52b8" stroke-width="1" opacity="0.4" filter="url(#blur05)"/>
<path d="M305,62 C310,66 314,72 318,80" fill="none" stroke="#7d76d6" stroke-width="2" opacity="0.45" filter="url(#blur1)"/>
<path d="M297.6,73 C300,78 303,84 306.2,88.5" fill="none" stroke="#463c9e" stroke-width="0.9" opacity="0.55" filter="url(#blur03)"/>
<path d="M303.8,70 C307,76 310,83 313.6,89.7" fill="none" stroke="#463c9e" stroke-width="0.9" opacity="0.55" filter="url(#blur03)"/>
<path d="M309.5,66 C312,72 315,80 318.5,86" fill="none" stroke="#463c9e" stroke-width="0.8" opacity="0.45" filter="url(#blur03)"/>
</g>
<rect x="243.4" y="50.2" width="76.3" height="75.7" fill="none" stroke="#3c8a4c" stroke-width="1.6" stroke-dasharray="4.2,3.5"/>
<clipPath id="ph2"><rect x="353.9" y="50.2" width="76.4" height="75.7"/></clipPath>
<g clip-path="url(#ph2)">
<rect x="353.9" y="50.2" width="76.4" height="75.7" fill="url(#gphoto)"/>
<path d="M354,98 L400,126 L354,126 Z" fill="#cfcfcb" opacity="0.6" filter="url(#blur2)"/>
<path d="M354,123 L431,121 L431,127 L354,127 Z" fill="#8f8f8a" opacity="0.5" filter="url(#blur05)"/>
<path d="M360.4,76.2 C360.1,77.7 360.4,80.1 360.6,81.5 C360.8,82.9 360.9,83.6 361.6,84.8 C362.3,86.0 363.6,88.0 364.7,88.5 C365.8,89.0 367.2,88.7 368.4,87.9 C369.6,87.1 371.1,84.8 372.1,83.6 C373.1,82.4 373.7,80.3 374.5,80.5 C375.3,80.7 376.2,83.5 377.0,85.0 C377.8,86.5 377.9,87.5 379.0,89.4 C380.1,91.3 382.1,94.3 383.6,96.6 C385.1,98.8 386.4,101.0 388.1,102.9 C389.8,104.9 391.8,106.8 393.6,108.3 C395.4,109.8 396.9,111.0 399.0,112.0 C401.1,113.0 403.5,113.9 406.2,114.6 C408.9,115.3 412.2,116.0 415.2,116.4 C418.2,116.9 421.5,117.0 424.3,117.3 C427.1,117.6 430.7,125.7 432.0,118.5 C433.3,111.3 432.4,81.7 432.0,74.0 C431.6,66.3 430.3,73.5 429.5,72.5 C428.7,71.5 428.2,69.8 427.0,68.0 C425.8,66.2 423.8,63.8 422.0,62.0 C420.2,60.2 418.0,58.5 416.0,57.5 C414.0,56.5 412.4,56.2 410.0,56.2 C407.6,56.2 403.7,57.2 401.5,57.8 C399.3,58.4 399.1,59.3 396.6,59.6 C394.2,59.9 389.9,59.7 386.8,59.8 C383.7,59.9 380.6,59.7 378.2,60.0 C375.8,60.3 373.9,60.4 372.1,61.5 C370.3,62.6 368.8,64.6 367.2,66.4 C365.6,68.2 363.4,70.9 362.3,72.5 C361.2,74.1 360.7,74.7 360.4,76.2 Z" fill="#5f55bb" filter="url(#blur03)"/>
<path d="M398,62 C410,58 420,62 426,70 L428,90 C420,88 410,84 400,80 Z" fill="#6a60c8" opacity="0.7" filter="url(#blur1)"/>
<path d="M376,80 C382,84 388,86 396,84 C394,90 392,96 388,98 C384,92 380,86 376,80 Z" fill="#352a88" opacity="0.7" filter="url(#blur1)"/>
<path d="M392,100 C400,104 410,108 424,110" fill="none" stroke="#463c9a" stroke-width="1.2" opacity="0.6" filter="url(#blur05)"/>
<path d="M395,66 C397,74 398,82 396,88" fill="none" stroke="#3a3090" stroke-width="1" opacity="0.6" filter="url(#blur05)"/>
<path d="M386,90 C388,92 391,93 394,92" fill="none" stroke="#c8c8c4" stroke-width="1.2" opacity="0.8" filter="url(#blur03)"/>
<path d="M366.5,66.5 C372,61.5 384,60.5 392.5,63 L393,78.5 C385,77.5 377,78.5 371,82 C367,78 364.5,72 366.5,66.5 Z" fill="#a9a7c2" opacity="0.38" filter="url(#blur05)"/>
<path d="M369,64 C376,61 384,60.5 391,62" fill="none" stroke="#dcdaf0" stroke-width="1" opacity="0.6" filter="url(#blur03)"/>
</g>
<rect x="353.9" y="50.2" width="76.4" height="75.7" fill="none" stroke="#3c8a4c" stroke-width="1.6" stroke-dasharray="4.2,3.5"/>
<rect x="319.7" y="85.2" width="22.5" height="11.2" fill="#4472c4" />
<polygon points="342.0,78.9 354.4,90.8 342.0,102.7" fill="#4472c4" />
<clipPath id="thclip"><rect x="517.6" y="26.8" width="148.3" height="111.0"/></clipPath>
<g clip-path="url(#thclip)">
<rect x="517.6" y="26.8" width="148.3" height="111.0" fill="url(#gthbg)"/>
<rect x="515" y="36" width="8" height="28" fill="#05030f" filter="url(#blur2)"/>
<circle cx="546.5" cy="53" r="3.4" fill="#6a2ad0" filter="url(#blur1)"/>
<circle cx="538.5" cy="48.5" r="3" fill="#0a0650" filter="url(#blur1)"/>
<rect x="553" y="106" width="84" height="13.5" rx="6" fill="#8a1ed4" filter="url(#blur25)"/>
<rect x="517" y="106" width="10" height="10" rx="4" fill="#4a16b0" filter="url(#blur2)"/>
<rect x="526" y="133" width="14" height="6" rx="3" fill="#8a1ed4" filter="url(#blur1)"/>
<rect x="514" y="57" width="152" height="48" rx="12" fill="#5a18b4" opacity="0.7" filter="url(#blur4)"/>
<rect x="517" y="62" width="146" height="38" rx="10" fill="#8a20cc" filter="url(#blur2)"/>
<rect x="520" y="65.5" width="140" height="31" rx="9" fill="#c42cb4" filter="url(#blur2)"/>
<rect x="523" y="68.5" width="134" height="25.5" rx="8" fill="#f8462c" filter="url(#blur2)"/>
<rect x="526" y="71" width="128" height="21" rx="7" fill="#ffa830" filter="url(#blur2)"/>
<rect x="529" y="73.5" width="122" height="16" rx="6" fill="#fff266" filter="url(#blur2)"/>
<ellipse cx="550" cy="80.5" rx="10" ry="4.5" fill="#ffffe0" filter="url(#blur2)"/>
<ellipse cx="628" cy="80.5" rx="11" ry="4" fill="#ffffb0" filter="url(#blur2)"/>
<g stroke="#6e6e6e" stroke-width="1.4"><line x1="592.5" y1="74.5" x2="592.5" y2="79.5"/><line x1="592.5" y1="85.3" x2="592.5" y2="90.4"/><line x1="584.5" y1="82.4" x2="589.6" y2="82.4"/><line x1="595.4" y1="82.4" x2="600.5" y2="82.4"/></g>
<rect x="659.3" y="40" width="5" height="84.3" fill="#100820"/>
<rect x="659.9" y="40.6" width="3.8" height="83.1" fill="url(#gbar)"/>
<rect x="519.4" y="28.4" width="30.2" height="9.6" fill="#0b0620"/>
<rect x="649.9" y="29.5" width="14.2" height="8.0" fill="#0b0620"/>
<rect x="646.9" y="126.0" width="17.2" height="9.6" fill="#0b0620"/>
<text x="521.8" y="37.3" font-size="9.6" font-weight="bold" fill="#fff" stroke="#fff" stroke-width="0.2">118</text>
<text x="541.2" y="33.6" font-size="5.6" fill="#fff" stroke="#fff" stroke-width="0.2">°C</text>
<text x="663.4" y="36.5" font-size="8.6" fill="#fff" text-anchor="end" stroke="#fff" stroke-width="0.2">133</text>
<text x="663.4" y="134.5" font-size="8.9" fill="#fff" text-anchor="end" stroke="#fff" stroke-width="0.2">25.9</text>
<text x="525.2" y="135.2" font-size="8" font-weight="bold" fill="#fff" stroke="#fff" stroke-width="0.2">FLIR</text>
<path d="M522.8,129.5 L525.3,132.2 L522.8,135 L520.3,132.2 Z" fill="none" stroke="#fff" stroke-width="1.4"/>
</g>
<polygon points="248.2,248.4 352.4,318.6 352.4,324.6 248.2,254.4" fill="#7d8569" />
<polygon points="352.4,318.6 422.5,270.9 422.5,276.9 352.4,324.6" fill="#747c61" />
<clipPath id="sideclip1"><polygon points="248.2,248.4 352.4,318.6 422.5,270.9 422.5,276.9 352.4,324.6 248.2,254.4"/></clipPath>
<g clip-path="url(#sideclip1)">
<circle cx="255.4" cy="251.6" r="3.1" fill="url(#gsside)"/>
<circle cx="261.1" cy="255.4" r="3.1" fill="url(#gsside)"/>
<circle cx="266.9" cy="259.2" r="3.1" fill="url(#gsside)"/>
<circle cx="272.6" cy="263.1" r="3.1" fill="url(#gsside)"/>
<circle cx="278.4" cy="266.9" r="3.1" fill="url(#gsside)"/>
<circle cx="284.1" cy="270.7" r="3.1" fill="url(#gsside)"/>
<circle cx="289.8" cy="274.6" r="3.1" fill="url(#gsside)"/>
<circle cx="295.6" cy="278.4" r="3.1" fill="url(#gsside)"/>
<circle cx="301.3" cy="282.2" r="3.1" fill="url(#gsside)"/>
<circle cx="307.0" cy="286.1" r="3.1" fill="url(#gsside)"/>
<circle cx="312.8" cy="289.9" r="3.1" fill="url(#gsside)"/>
<circle cx="318.5" cy="293.7" r="3.1" fill="url(#gsside)"/>
<circle cx="324.3" cy="297.6" r="3.1" fill="url(#gsside)"/>
<circle cx="330.0" cy="301.4" r="3.1" fill="url(#gsside)"/>
<circle cx="335.7" cy="305.2" r="3.1" fill="url(#gsside)"/>
<circle cx="341.5" cy="309.1" r="3.1" fill="url(#gsside)"/>
<circle cx="347.2" cy="312.9" r="3.1" fill="url(#gsside)"/>
<circle cx="352.9" cy="316.7" r="3.1" fill="url(#gsside)"/>
<circle cx="352.9" cy="316.7" r="3.1" fill="url(#gsside)"/>
<circle cx="359.4" cy="312.3" r="3.1" fill="url(#gsside)"/>
<circle cx="365.9" cy="307.9" r="3.1" fill="url(#gsside)"/>
<circle cx="372.4" cy="303.6" r="3.1" fill="url(#gsside)"/>
<circle cx="378.9" cy="299.2" r="3.1" fill="url(#gsside)"/>
<circle cx="385.3" cy="294.8" r="3.1" fill="url(#gsside)"/>
<circle cx="391.8" cy="290.4" r="3.1" fill="url(#gsside)"/>
<circle cx="398.3" cy="286.0" r="3.1" fill="url(#gsside)"/>
<circle cx="404.8" cy="281.6" r="3.1" fill="url(#gsside)"/>
<circle cx="411.2" cy="277.2" r="3.1" fill="url(#gsside)"/>
<circle cx="417.7" cy="272.8" r="3.1" fill="url(#gsside)"/>
</g>
<polygon points="248.2,248.4 314.5,218.1 422.5,270.9 352.4,318.6" fill="#8a9378" />
<clipPath id="slabclip1"><polygon points="248.2,248.4 314.5,218.1 422.5,270.9 352.4,318.6"/></clipPath>
<g clip-path="url(#slabclip1)">
<circle cx="255.4" cy="251.0" r="3.4" fill="url(#gsage)"/>
<circle cx="261.6" cy="248.1" r="3.4" fill="url(#gsage)"/>
<circle cx="267.7" cy="245.2" r="3.4" fill="url(#gsage)"/>
<circle cx="273.9" cy="242.3" r="3.4" fill="url(#gsage)"/>
<circle cx="280.0" cy="239.4" r="3.4" fill="url(#gsage)"/>
<circle cx="286.2" cy="236.6" r="3.4" fill="url(#gsage)"/>
<circle cx="292.3" cy="233.7" r="3.4" fill="url(#gsage)"/>
<circle cx="298.5" cy="230.8" r="3.4" fill="url(#gsage)"/>
<circle cx="304.6" cy="227.9" r="3.4" fill="url(#gsage)"/>
<circle cx="310.8" cy="225.0" r="3.4" fill="url(#gsage)"/>
<circle cx="316.9" cy="222.1" r="3.4" fill="url(#gsage)"/>
<circle cx="261.1" cy="254.8" r="3.4" fill="url(#gsage)"/>
<circle cx="267.3" cy="251.8" r="3.4" fill="url(#gsage)"/>
<circle cx="273.5" cy="248.9" r="3.4" fill="url(#gsage)"/>
<circle cx="279.7" cy="245.9" r="3.4" fill="url(#gsage)"/>
<circle cx="285.8" cy="242.9" r="3.4" fill="url(#gsage)"/>
<circle cx="292.0" cy="239.9" r="3.4" fill="url(#gsage)"/>
<circle cx="298.2" cy="237.0" r="3.4" fill="url(#gsage)"/>
<circle cx="304.3" cy="234.0" r="3.4" fill="url(#gsage)"/>
<circle cx="310.5" cy="231.0" r="3.4" fill="url(#gsage)"/>
<circle cx="316.7" cy="228.1" r="3.4" fill="url(#gsage)"/>
<circle cx="322.8" cy="225.1" r="3.4" fill="url(#gsage)"/>
<circle cx="266.9" cy="258.6" r="3.4" fill="url(#gsage)"/>
<circle cx="273.1" cy="255.6" r="3.4" fill="url(#gsage)"/>
<circle cx="279.3" cy="252.5" r="3.4" fill="url(#gsage)"/>
<circle cx="285.4" cy="249.5" r="3.4" fill="url(#gsage)"/>
<circle cx="291.6" cy="246.4" r="3.4" fill="url(#gsage)"/>
<circle cx="297.8" cy="243.3" r="3.4" fill="url(#gsage)"/>
<circle cx="304.0" cy="240.3" r="3.4" fill="url(#gsage)"/>
<circle cx="310.2" cy="237.2" r="3.4" fill="url(#gsage)"/>
<circle cx="316.4" cy="234.2" r="3.4" fill="url(#gsage)"/>
<circle cx="322.6" cy="231.1" r="3.4" fill="url(#gsage)"/>
<circle cx="328.8" cy="228.0" r="3.4" fill="url(#gsage)"/>
<circle cx="272.6" cy="262.5" r="3.4" fill="url(#gsage)"/>
<circle cx="278.8" cy="259.3" r="3.4" fill="url(#gsage)"/>
<circle cx="285.0" cy="256.2" r="3.4" fill="url(#gsage)"/>
<circle cx="291.2" cy="253.0" r="3.4" fill="url(#gsage)"/>
<circle cx="297.4" cy="249.9" r="3.4" fill="url(#gsage)"/>
<circle cx="303.7" cy="246.7" r="3.4" fill="url(#gsage)"/>
<circle cx="309.9" cy="243.6" r="3.4" fill="url(#gsage)"/>
<circle cx="316.1" cy="240.4" r="3.4" fill="url(#gsage)"/>
<circle cx="322.3" cy="237.3" r="3.4" fill="url(#gsage)"/>
<circle cx="328.5" cy="234.1" r="3.4" fill="url(#gsage)"/>
<circle cx="334.7" cy="231.0" r="3.4" fill="url(#gsage)"/>
<circle cx="278.4" cy="266.3" r="3.4" fill="url(#gsage)"/>
<circle cx="284.6" cy="263.1" r="3.4" fill="url(#gsage)"/>
<circle cx="290.8" cy="259.8" r="3.4" fill="url(#gsage)"/>
<circle cx="297.0" cy="256.6" r="3.4" fill="url(#gsage)"/>
<circle cx="303.3" cy="253.4" r="3.4" fill="url(#gsage)"/>
<circle cx="309.5" cy="250.1" r="3.4" fill="url(#gsage)"/>
<circle cx="315.7" cy="246.9" r="3.4" fill="url(#gsage)"/>
<circle cx="321.9" cy="243.6" r="3.4" fill="url(#gsage)"/>
<circle cx="328.2" cy="240.4" r="3.4" fill="url(#gsage)"/>
<circle cx="334.4" cy="237.2" r="3.4" fill="url(#gsage)"/>
<circle cx="340.6" cy="233.9" r="3.4" fill="url(#gsage)"/>
<circle cx="284.1" cy="270.1" r="3.4" fill="url(#gsage)"/>
<circle cx="290.3" cy="266.8" r="3.4" fill="url(#gsage)"/>
<circle cx="296.6" cy="263.5" r="3.4" fill="url(#gsage)"/>
<circle cx="302.8" cy="260.2" r="3.4" fill="url(#gsage)"/>
<circle cx="309.1" cy="256.8" r="3.4" fill="url(#gsage)"/>
<circle cx="315.3" cy="253.5" r="3.4" fill="url(#gsage)"/>
<circle cx="321.6" cy="250.2" r="3.4" fill="url(#gsage)"/>
<circle cx="327.8" cy="246.9" r="3.4" fill="url(#gsage)"/>
<circle cx="334.1" cy="243.5" r="3.4" fill="url(#gsage)"/>
<circle cx="340.3" cy="240.2" r="3.4" fill="url(#gsage)"/>
<circle cx="346.6" cy="236.9" r="3.4" fill="url(#gsage)"/>
<circle cx="289.8" cy="274.0" r="3.4" fill="url(#gsage)"/>
<circle cx="296.1" cy="270.6" r="3.4" fill="url(#gsage)"/>
<circle cx="302.4" cy="267.1" r="3.4" fill="url(#gsage)"/>
<circle cx="308.6" cy="263.7" r="3.4" fill="url(#gsage)"/>
<circle cx="314.9" cy="260.3" r="3.4" fill="url(#gsage)"/>
<circle cx="321.2" cy="256.9" r="3.4" fill="url(#gsage)"/>
<circle cx="327.4" cy="253.5" r="3.4" fill="url(#gsage)"/>
<circle cx="333.7" cy="250.1" r="3.4" fill="url(#gsage)"/>
<circle cx="340.0" cy="246.7" r="3.4" fill="url(#gsage)"/>
<circle cx="346.2" cy="243.2" r="3.4" fill="url(#gsage)"/>
<circle cx="352.5" cy="239.8" r="3.4" fill="url(#gsage)"/>
<circle cx="295.6" cy="277.8" r="3.4" fill="url(#gsage)"/>
<circle cx="301.9" cy="274.3" r="3.4" fill="url(#gsage)"/>
<circle cx="308.1" cy="270.8" r="3.4" fill="url(#gsage)"/>
<circle cx="314.4" cy="267.3" r="3.4" fill="url(#gsage)"/>
<circle cx="320.7" cy="263.8" r="3.4" fill="url(#gsage)"/>
<circle cx="327.0" cy="260.3" r="3.4" fill="url(#gsage)"/>
<circle cx="333.3" cy="256.8" r="3.4" fill="url(#gsage)"/>
<circle cx="339.6" cy="253.3" r="3.4" fill="url(#gsage)"/>
<circle cx="345.9" cy="249.8" r="3.4" fill="url(#gsage)"/>
<circle cx="352.1" cy="246.3" r="3.4" fill="url(#gsage)"/>
<circle cx="358.4" cy="242.8" r="3.4" fill="url(#gsage)"/>
<circle cx="301.3" cy="281.6" r="3.4" fill="url(#gsage)"/>
<circle cx="307.6" cy="278.0" r="3.4" fill="url(#gsage)"/>
<circle cx="313.9" cy="274.5" r="3.4" fill="url(#gsage)"/>
<circle cx="320.2" cy="270.9" r="3.4" fill="url(#gsage)"/>
<circle cx="326.5" cy="267.3" r="3.4" fill="url(#gsage)"/>
<circle cx="332.8" cy="263.7" r="3.4" fill="url(#gsage)"/>
<circle cx="339.1" cy="260.1" r="3.4" fill="url(#gsage)"/>
<circle cx="345.4" cy="256.5" r="3.4" fill="url(#gsage)"/>
<circle cx="351.7" cy="252.9" r="3.4" fill="url(#gsage)"/>
<circle cx="358.0" cy="249.3" r="3.4" fill="url(#gsage)"/>
<circle cx="364.4" cy="245.7" r="3.4" fill="url(#gsage)"/>
<circle cx="307.0" cy="285.5" r="3.4" fill="url(#gsage)"/>
<circle cx="313.4" cy="281.8" r="3.4" fill="url(#gsage)"/>
<circle cx="319.7" cy="278.1" r="3.4" fill="url(#gsage)"/>
<circle cx="326.0" cy="274.4" r="3.4" fill="url(#gsage)"/>
<circle cx="332.3" cy="270.7" r="3.4" fill="url(#gsage)"/>
<circle cx="338.7" cy="267.1" r="3.4" fill="url(#gsage)"/>
<circle cx="345.0" cy="263.4" r="3.4" fill="url(#gsage)"/>
<circle cx="351.3" cy="259.7" r="3.4" fill="url(#gsage)"/>
<circle cx="357.6" cy="256.0" r="3.4" fill="url(#gsage)"/>
<circle cx="364.0" cy="252.3" r="3.4" fill="url(#gsage)"/>
<circle cx="370.3" cy="248.7" r="3.4" fill="url(#gsage)"/>
<circle cx="312.8" cy="289.3" r="3.4" fill="url(#gsage)"/>
<circle cx="319.1" cy="285.5" r="3.4" fill="url(#gsage)"/>
<circle cx="325.5" cy="281.8" r="3.4" fill="url(#gsage)"/>
<circle cx="331.8" cy="278.0" r="3.4" fill="url(#gsage)"/>
<circle cx="338.2" cy="274.2" r="3.4" fill="url(#gsage)"/>
<circle cx="344.5" cy="270.5" r="3.4" fill="url(#gsage)"/>
<circle cx="350.8" cy="266.7" r="3.4" fill="url(#gsage)"/>
<circle cx="357.2" cy="262.9" r="3.4" fill="url(#gsage)"/>
<circle cx="363.5" cy="259.2" r="3.4" fill="url(#gsage)"/>
<circle cx="369.9" cy="255.4" r="3.4" fill="url(#gsage)"/>
<circle cx="376.2" cy="251.6" r="3.4" fill="url(#gsage)"/>
<circle cx="318.5" cy="293.1" r="3.4" fill="url(#gsage)"/>
<circle cx="324.9" cy="289.3" r="3.4" fill="url(#gsage)"/>
<circle cx="331.2" cy="285.4" r="3.4" fill="url(#gsage)"/>
<circle cx="337.6" cy="281.6" r="3.4" fill="url(#gsage)"/>
<circle cx="344.0" cy="277.7" r="3.4" fill="url(#gsage)"/>
<circle cx="350.3" cy="273.8" r="3.4" fill="url(#gsage)"/>
<circle cx="356.7" cy="270.0" r="3.4" fill="url(#gsage)"/>
<circle cx="363.1" cy="266.1" r="3.4" fill="url(#gsage)"/>
<circle cx="369.4" cy="262.3" r="3.4" fill="url(#gsage)"/>
<circle cx="375.8" cy="258.4" r="3.4" fill="url(#gsage)"/>
<circle cx="382.1" cy="254.6" r="3.4" fill="url(#gsage)"/>
<circle cx="324.3" cy="297.0" r="3.4" fill="url(#gsage)"/>
<circle cx="330.6" cy="293.0" r="3.4" fill="url(#gsage)"/>
<circle cx="337.0" cy="289.1" r="3.4" fill="url(#gsage)"/>
<circle cx="343.4" cy="285.1" r="3.4" fill="url(#gsage)"/>
<circle cx="349.8" cy="281.2" r="3.4" fill="url(#gsage)"/>
<circle cx="356.2" cy="277.2" r="3.4" fill="url(#gsage)"/>
<circle cx="362.5" cy="273.3" r="3.4" fill="url(#gsage)"/>
<circle cx="368.9" cy="269.3" r="3.4" fill="url(#gsage)"/>
<circle cx="375.3" cy="265.4" r="3.4" fill="url(#gsage)"/>
<circle cx="381.7" cy="261.5" r="3.4" fill="url(#gsage)"/>
<circle cx="388.1" cy="257.5" r="3.4" fill="url(#gsage)"/>
<circle cx="330.0" cy="300.8" r="3.4" fill="url(#gsage)"/>
<circle cx="336.4" cy="296.8" r="3.4" fill="url(#gsage)"/>
<circle cx="342.8" cy="292.7" r="3.4" fill="url(#gsage)"/>
<circle cx="349.2" cy="288.7" r="3.4" fill="url(#gsage)"/>
<circle cx="355.6" cy="284.7" r="3.4" fill="url(#gsage)"/>
<circle cx="362.0" cy="280.6" r="3.4" fill="url(#gsage)"/>
<circle cx="368.4" cy="276.6" r="3.4" fill="url(#gsage)"/>
<circle cx="374.8" cy="272.6" r="3.4" fill="url(#gsage)"/>
<circle cx="381.2" cy="268.5" r="3.4" fill="url(#gsage)"/>
<circle cx="387.6" cy="264.5" r="3.4" fill="url(#gsage)"/>
<circle cx="394.0" cy="260.5" r="3.4" fill="url(#gsage)"/>
<circle cx="335.7" cy="304.6" r="3.4" fill="url(#gsage)"/>
<circle cx="342.1" cy="300.5" r="3.4" fill="url(#gsage)"/>
<circle cx="348.6" cy="296.4" r="3.4" fill="url(#gsage)"/>
<circle cx="355.0" cy="292.3" r="3.4" fill="url(#gsage)"/>
<circle cx="361.4" cy="288.1" r="3.4" fill="url(#gsage)"/>
<circle cx="367.8" cy="284.0" r="3.4" fill="url(#gsage)"/>
<circle cx="374.3" cy="279.9" r="3.4" fill="url(#gsage)"/>
<circle cx="380.7" cy="275.8" r="3.4" fill="url(#gsage)"/>
<circle cx="387.1" cy="271.6" r="3.4" fill="url(#gsage)"/>
<circle cx="393.5" cy="267.5" r="3.4" fill="url(#gsage)"/>
<circle cx="399.9" cy="263.4" r="3.4" fill="url(#gsage)"/>
<circle cx="341.5" cy="308.5" r="3.4" fill="url(#gsage)"/>
<circle cx="347.9" cy="304.2" r="3.4" fill="url(#gsage)"/>
<circle cx="354.3" cy="300.0" r="3.4" fill="url(#gsage)"/>
<circle cx="360.8" cy="295.8" r="3.4" fill="url(#gsage)"/>
<circle cx="367.2" cy="291.6" r="3.4" fill="url(#gsage)"/>
<circle cx="373.7" cy="287.4" r="3.4" fill="url(#gsage)"/>
<circle cx="380.1" cy="283.2" r="3.4" fill="url(#gsage)"/>
<circle cx="386.5" cy="279.0" r="3.4" fill="url(#gsage)"/>
<circle cx="393.0" cy="274.8" r="3.4" fill="url(#gsage)"/>
<circle cx="399.4" cy="270.6" r="3.4" fill="url(#gsage)"/>
<circle cx="405.9" cy="266.3" r="3.4" fill="url(#gsage)"/>
<circle cx="347.2" cy="312.3" r="3.4" fill="url(#gsage)"/>
<circle cx="353.7" cy="308.0" r="3.4" fill="url(#gsage)"/>
<circle cx="360.1" cy="303.7" r="3.4" fill="url(#gsage)"/>
<circle cx="366.6" cy="299.4" r="3.4" fill="url(#gsage)"/>
<circle cx="373.0" cy="295.1" r="3.4" fill="url(#gsage)"/>
<circle cx="379.5" cy="290.8" r="3.4" fill="url(#gsage)"/>
<circle cx="386.0" cy="286.5" r="3.4" fill="url(#gsage)"/>
<circle cx="392.4" cy="282.2" r="3.4" fill="url(#gsage)"/>
<circle cx="398.9" cy="277.9" r="3.4" fill="url(#gsage)"/>
<circle cx="405.3" cy="273.6" r="3.4" fill="url(#gsage)"/>
<circle cx="411.8" cy="269.3" r="3.4" fill="url(#gsage)"/>
<circle cx="352.9" cy="316.1" r="3.4" fill="url(#gsage)"/>
<circle cx="359.4" cy="311.7" r="3.4" fill="url(#gsage)"/>
<circle cx="365.9" cy="307.3" r="3.4" fill="url(#gsage)"/>
<circle cx="372.4" cy="303.0" r="3.4" fill="url(#gsage)"/>
<circle cx="378.9" cy="298.6" r="3.4" fill="url(#gsage)"/>
<circle cx="385.3" cy="294.2" r="3.4" fill="url(#gsage)"/>
<circle cx="391.8" cy="289.8" r="3.4" fill="url(#gsage)"/>
<circle cx="398.3" cy="285.4" r="3.4" fill="url(#gsage)"/>
<circle cx="404.8" cy="281.0" r="3.4" fill="url(#gsage)"/>
<circle cx="411.2" cy="276.6" r="3.4" fill="url(#gsage)"/>
<circle cx="417.7" cy="272.2" r="3.4" fill="url(#gsage)"/>
</g>
<polygon points="508.1,247.0 612.1,318.6 612.1,325.0 508.1,253.4" fill="#7d8569" />
<polygon points="612.1,318.6 680.4,271.2 680.4,277.6 612.1,325.0" fill="#747c61" />
<clipPath id="sideclip2"><polygon points="508.1,247.0 612.1,318.6 680.4,271.2 680.4,277.59999999999997 612.1,325.0 508.1,253.4"/></clipPath>
<g clip-path="url(#sideclip2)">
<circle cx="515.3" cy="250.3" r="3.1" fill="url(#gsside)"/>
<circle cx="521.0" cy="254.2" r="3.1" fill="url(#gsside)"/>
<circle cx="526.8" cy="258.1" r="3.1" fill="url(#gsside)"/>
<circle cx="532.5" cy="262.0" r="3.1" fill="url(#gsside)"/>
<circle cx="538.2" cy="265.9" r="3.1" fill="url(#gsside)"/>
<circle cx="543.9" cy="269.8" r="3.1" fill="url(#gsside)"/>
<circle cx="549.7" cy="273.7" r="3.1" fill="url(#gsside)"/>
<circle cx="555.4" cy="277.6" r="3.1" fill="url(#gsside)"/>
<circle cx="561.1" cy="281.5" r="3.1" fill="url(#gsside)"/>
<circle cx="566.8" cy="285.5" r="3.1" fill="url(#gsside)"/>
<circle cx="572.5" cy="289.4" r="3.1" fill="url(#gsside)"/>
<circle cx="578.3" cy="293.3" r="3.1" fill="url(#gsside)"/>
<circle cx="584.0" cy="297.2" r="3.1" fill="url(#gsside)"/>
<circle cx="589.7" cy="301.1" r="3.1" fill="url(#gsside)"/>
<circle cx="595.4" cy="305.0" r="3.1" fill="url(#gsside)"/>
<circle cx="601.1" cy="308.9" r="3.1" fill="url(#gsside)"/>
<circle cx="606.9" cy="312.8" r="3.1" fill="url(#gsside)"/>
<circle cx="612.6" cy="316.7" r="3.1" fill="url(#gsside)"/>
<circle cx="612.6" cy="316.7" r="3.1" fill="url(#gsside)"/>
<circle cx="618.9" cy="312.4" r="3.1" fill="url(#gsside)"/>
<circle cx="625.2" cy="308.0" r="3.1" fill="url(#gsside)"/>
<circle cx="631.5" cy="303.6" r="3.1" fill="url(#gsside)"/>
<circle cx="637.9" cy="299.3" r="3.1" fill="url(#gsside)"/>
<circle cx="644.2" cy="294.9" r="3.1" fill="url(#gsside)"/>
<circle cx="650.5" cy="290.6" r="3.1" fill="url(#gsside)"/>
<circle cx="656.8" cy="286.2" r="3.1" fill="url(#gsside)"/>
<circle cx="663.1" cy="281.8" r="3.1" fill="url(#gsside)"/>
<circle cx="669.4" cy="277.5" r="3.1" fill="url(#gsside)"/>
<circle cx="675.8" cy="273.1" r="3.1" fill="url(#gsside)"/>
</g>
<polygon points="508.1,247.0 575.6,218.0 680.4,271.2 612.1,318.6" fill="#8a9378" />
<clipPath id="slabclip2"><polygon points="508.1,247.0 575.6,218.0 680.4,271.2 612.1,318.6"/></clipPath>
<g clip-path="url(#slabclip2)">
<circle cx="515.3" cy="249.7" r="3.4" fill="url(#gsage)"/>
<circle cx="521.6" cy="246.9" r="3.4" fill="url(#gsage)"/>
<circle cx="527.8" cy="244.1" r="3.4" fill="url(#gsage)"/>
<circle cx="534.1" cy="241.4" r="3.4" fill="url(#gsage)"/>
<circle cx="540.3" cy="238.6" r="3.4" fill="url(#gsage)"/>
<circle cx="546.6" cy="235.8" r="3.4" fill="url(#gsage)"/>
<circle cx="552.8" cy="233.1" r="3.4" fill="url(#gsage)"/>
<circle cx="559.1" cy="230.3" r="3.4" fill="url(#gsage)"/>
<circle cx="565.3" cy="227.5" r="3.4" fill="url(#gsage)"/>
<circle cx="571.6" cy="224.8" r="3.4" fill="url(#gsage)"/>
<circle cx="577.8" cy="222.0" r="3.4" fill="url(#gsage)"/>
<circle cx="521.0" cy="253.6" r="3.4" fill="url(#gsage)"/>
<circle cx="527.3" cy="250.7" r="3.4" fill="url(#gsage)"/>
<circle cx="533.6" cy="247.9" r="3.4" fill="url(#gsage)"/>
<circle cx="539.8" cy="245.0" r="3.4" fill="url(#gsage)"/>
<circle cx="546.1" cy="242.1" r="3.4" fill="url(#gsage)"/>
<circle cx="552.3" cy="239.3" r="3.4" fill="url(#gsage)"/>
<circle cx="558.6" cy="236.4" r="3.4" fill="url(#gsage)"/>
<circle cx="564.8" cy="233.6" r="3.4" fill="url(#gsage)"/>
<circle cx="571.1" cy="230.7" r="3.4" fill="url(#gsage)"/>
<circle cx="577.3" cy="227.8" r="3.4" fill="url(#gsage)"/>
<circle cx="583.6" cy="225.0" r="3.4" fill="url(#gsage)"/>
<circle cx="526.8" cy="257.5" r="3.4" fill="url(#gsage)"/>
<circle cx="533.0" cy="254.5" r="3.4" fill="url(#gsage)"/>
<circle cx="539.3" cy="251.6" r="3.4" fill="url(#gsage)"/>
<circle cx="545.5" cy="248.6" r="3.4" fill="url(#gsage)"/>
<circle cx="551.8" cy="245.7" r="3.4" fill="url(#gsage)"/>
<circle cx="558.0" cy="242.7" r="3.4" fill="url(#gsage)"/>
<circle cx="564.3" cy="239.8" r="3.4" fill="url(#gsage)"/>
<circle cx="570.6" cy="236.8" r="3.4" fill="url(#gsage)"/>
<circle cx="576.8" cy="233.9" r="3.4" fill="url(#gsage)"/>
<circle cx="583.1" cy="230.9" r="3.4" fill="url(#gsage)"/>
<circle cx="589.3" cy="227.9" r="3.4" fill="url(#gsage)"/>
<circle cx="532.5" cy="261.4" r="3.4" fill="url(#gsage)"/>
<circle cx="538.7" cy="258.4" r="3.4" fill="url(#gsage)"/>
<circle cx="545.0" cy="255.3" r="3.4" fill="url(#gsage)"/>
<circle cx="551.3" cy="252.3" r="3.4" fill="url(#gsage)"/>
<circle cx="557.5" cy="249.2" r="3.4" fill="url(#gsage)"/>
<circle cx="563.8" cy="246.2" r="3.4" fill="url(#gsage)"/>
<circle cx="570.0" cy="243.1" r="3.4" fill="url(#gsage)"/>
<circle cx="576.3" cy="240.1" r="3.4" fill="url(#gsage)"/>
<circle cx="582.6" cy="237.0" r="3.4" fill="url(#gsage)"/>
<circle cx="588.8" cy="234.0" r="3.4" fill="url(#gsage)"/>
<circle cx="595.1" cy="230.9" r="3.4" fill="url(#gsage)"/>
<circle cx="538.2" cy="265.3" r="3.4" fill="url(#gsage)"/>
<circle cx="544.5" cy="262.2" r="3.4" fill="url(#gsage)"/>
<circle cx="550.7" cy="259.0" r="3.4" fill="url(#gsage)"/>
<circle cx="557.0" cy="255.9" r="3.4" fill="url(#gsage)"/>
<circle cx="563.3" cy="252.7" r="3.4" fill="url(#gsage)"/>
<circle cx="569.5" cy="249.6" r="3.4" fill="url(#gsage)"/>
<circle cx="575.8" cy="246.5" r="3.4" fill="url(#gsage)"/>
<circle cx="582.1" cy="243.3" r="3.4" fill="url(#gsage)"/>
<circle cx="588.3" cy="240.2" r="3.4" fill="url(#gsage)"/>
<circle cx="594.6" cy="237.0" r="3.4" fill="url(#gsage)"/>
<circle cx="600.8" cy="233.9" r="3.4" fill="url(#gsage)"/>
<circle cx="543.9" cy="269.2" r="3.4" fill="url(#gsage)"/>
<circle cx="550.2" cy="266.0" r="3.4" fill="url(#gsage)"/>
<circle cx="556.5" cy="262.7" r="3.4" fill="url(#gsage)"/>
<circle cx="562.7" cy="259.5" r="3.4" fill="url(#gsage)"/>
<circle cx="569.0" cy="256.3" r="3.4" fill="url(#gsage)"/>
<circle cx="575.3" cy="253.0" r="3.4" fill="url(#gsage)"/>
<circle cx="581.5" cy="249.8" r="3.4" fill="url(#gsage)"/>
<circle cx="587.8" cy="246.6" r="3.4" fill="url(#gsage)"/>
<circle cx="594.1" cy="243.3" r="3.4" fill="url(#gsage)"/>
<circle cx="600.3" cy="240.1" r="3.4" fill="url(#gsage)"/>
<circle cx="606.6" cy="236.9" r="3.4" fill="url(#gsage)"/>
<circle cx="549.7" cy="273.1" r="3.4" fill="url(#gsage)"/>
<circle cx="555.9" cy="269.8" r="3.4" fill="url(#gsage)"/>
<circle cx="562.2" cy="266.5" r="3.4" fill="url(#gsage)"/>
<circle cx="568.5" cy="263.1" r="3.4" fill="url(#gsage)"/>
<circle cx="574.7" cy="259.8" r="3.4" fill="url(#gsage)"/>
<circle cx="581.0" cy="256.5" r="3.4" fill="url(#gsage)"/>
<circle cx="587.3" cy="253.2" r="3.4" fill="url(#gsage)"/>
<circle cx="593.6" cy="249.8" r="3.4" fill="url(#gsage)"/>
<circle cx="599.8" cy="246.5" r="3.4" fill="url(#gsage)"/>
<circle cx="606.1" cy="243.2" r="3.4" fill="url(#gsage)"/>
<circle cx="612.4" cy="239.8" r="3.4" fill="url(#gsage)"/>
<circle cx="555.4" cy="277.0" r="3.4" fill="url(#gsage)"/>
<circle cx="561.7" cy="273.6" r="3.4" fill="url(#gsage)"/>
<circle cx="567.9" cy="270.2" r="3.4" fill="url(#gsage)"/>
<circle cx="574.2" cy="266.8" r="3.4" fill="url(#gsage)"/>
<circle cx="580.5" cy="263.3" r="3.4" fill="url(#gsage)"/>
<circle cx="586.8" cy="259.9" r="3.4" fill="url(#gsage)"/>
<circle cx="593.0" cy="256.5" r="3.4" fill="url(#gsage)"/>
<circle cx="599.3" cy="253.1" r="3.4" fill="url(#gsage)"/>
<circle cx="605.6" cy="249.7" r="3.4" fill="url(#gsage)"/>
<circle cx="611.9" cy="246.2" r="3.4" fill="url(#gsage)"/>
<circle cx="618.1" cy="242.8" r="3.4" fill="url(#gsage)"/>
<circle cx="561.1" cy="280.9" r="3.4" fill="url(#gsage)"/>
<circle cx="567.4" cy="277.4" r="3.4" fill="url(#gsage)"/>
<circle cx="573.7" cy="273.9" r="3.4" fill="url(#gsage)"/>
<circle cx="579.9" cy="270.4" r="3.4" fill="url(#gsage)"/>
<circle cx="586.2" cy="266.9" r="3.4" fill="url(#gsage)"/>
<circle cx="592.5" cy="263.4" r="3.4" fill="url(#gsage)"/>
<circle cx="598.8" cy="259.8" r="3.4" fill="url(#gsage)"/>
<circle cx="605.1" cy="256.3" r="3.4" fill="url(#gsage)"/>
<circle cx="611.3" cy="252.8" r="3.4" fill="url(#gsage)"/>
<circle cx="617.6" cy="249.3" r="3.4" fill="url(#gsage)"/>
<circle cx="623.9" cy="245.8" r="3.4" fill="url(#gsage)"/>
<circle cx="566.8" cy="284.9" r="3.4" fill="url(#gsage)"/>
<circle cx="573.1" cy="281.2" r="3.4" fill="url(#gsage)"/>
<circle cx="579.4" cy="277.6" r="3.4" fill="url(#gsage)"/>
<circle cx="585.7" cy="274.0" r="3.4" fill="url(#gsage)"/>
<circle cx="592.0" cy="270.4" r="3.4" fill="url(#gsage)"/>
<circle cx="598.2" cy="266.8" r="3.4" fill="url(#gsage)"/>
<circle cx="604.5" cy="263.2" r="3.4" fill="url(#gsage)"/>
<circle cx="610.8" cy="259.6" r="3.4" fill="url(#gsage)"/>
<circle cx="617.1" cy="256.0" r="3.4" fill="url(#gsage)"/>
<circle cx="623.4" cy="252.4" r="3.4" fill="url(#gsage)"/>
<circle cx="629.7" cy="248.8" r="3.4" fill="url(#gsage)"/>
<circle cx="572.5" cy="288.8" r="3.4" fill="url(#gsage)"/>
<circle cx="578.8" cy="285.1" r="3.4" fill="url(#gsage)"/>
<circle cx="585.1" cy="281.4" r="3.4" fill="url(#gsage)"/>
<circle cx="591.4" cy="277.6" r="3.4" fill="url(#gsage)"/>
<circle cx="597.7" cy="273.9" r="3.4" fill="url(#gsage)"/>
<circle cx="604.0" cy="270.2" r="3.4" fill="url(#gsage)"/>
<circle cx="610.3" cy="266.5" r="3.4" fill="url(#gsage)"/>
<circle cx="616.6" cy="262.8" r="3.4" fill="url(#gsage)"/>
<circle cx="622.8" cy="259.1" r="3.4" fill="url(#gsage)"/>
<circle cx="629.1" cy="255.4" r="3.4" fill="url(#gsage)"/>
<circle cx="635.4" cy="251.7" r="3.4" fill="url(#gsage)"/>
<circle cx="578.3" cy="292.7" r="3.4" fill="url(#gsage)"/>
<circle cx="584.6" cy="288.9" r="3.4" fill="url(#gsage)"/>
<circle cx="590.8" cy="285.1" r="3.4" fill="url(#gsage)"/>
<circle cx="597.1" cy="281.3" r="3.4" fill="url(#gsage)"/>
<circle cx="603.4" cy="277.5" r="3.4" fill="url(#gsage)"/>
<circle cx="609.7" cy="273.7" r="3.4" fill="url(#gsage)"/>
<circle cx="616.0" cy="269.9" r="3.4" fill="url(#gsage)"/>
<circle cx="622.3" cy="266.1" r="3.4" fill="url(#gsage)"/>
<circle cx="628.6" cy="262.3" r="3.4" fill="url(#gsage)"/>
<circle cx="634.9" cy="258.5" r="3.4" fill="url(#gsage)"/>
<circle cx="641.2" cy="254.7" r="3.4" fill="url(#gsage)"/>
<circle cx="584.0" cy="296.6" r="3.4" fill="url(#gsage)"/>
<circle cx="590.3" cy="292.7" r="3.4" fill="url(#gsage)"/>
<circle cx="596.6" cy="288.8" r="3.4" fill="url(#gsage)"/>
<circle cx="602.9" cy="284.9" r="3.4" fill="url(#gsage)"/>
<circle cx="609.2" cy="281.0" r="3.4" fill="url(#gsage)"/>
<circle cx="615.5" cy="277.1" r="3.4" fill="url(#gsage)"/>
<circle cx="621.8" cy="273.2" r="3.4" fill="url(#gsage)"/>
<circle cx="628.1" cy="269.3" r="3.4" fill="url(#gsage)"/>
<circle cx="634.4" cy="265.4" r="3.4" fill="url(#gsage)"/>
<circle cx="640.6" cy="261.6" r="3.4" fill="url(#gsage)"/>
<circle cx="646.9" cy="257.7" r="3.4" fill="url(#gsage)"/>
<circle cx="589.7" cy="300.5" r="3.4" fill="url(#gsage)"/>
<circle cx="596.0" cy="296.5" r="3.4" fill="url(#gsage)"/>
<circle cx="602.3" cy="292.5" r="3.4" fill="url(#gsage)"/>
<circle cx="608.6" cy="288.5" r="3.4" fill="url(#gsage)"/>
<circle cx="614.9" cy="284.5" r="3.4" fill="url(#gsage)"/>
<circle cx="621.2" cy="280.6" r="3.4" fill="url(#gsage)"/>
<circle cx="627.5" cy="276.6" r="3.4" fill="url(#gsage)"/>
<circle cx="633.8" cy="272.6" r="3.4" fill="url(#gsage)"/>
<circle cx="640.1" cy="268.6" r="3.4" fill="url(#gsage)"/>
<circle cx="646.4" cy="264.6" r="3.4" fill="url(#gsage)"/>
<circle cx="652.7" cy="260.6" r="3.4" fill="url(#gsage)"/>
<circle cx="595.4" cy="304.4" r="3.4" fill="url(#gsage)"/>
<circle cx="601.7" cy="300.3" r="3.4" fill="url(#gsage)"/>
<circle cx="608.0" cy="296.2" r="3.4" fill="url(#gsage)"/>
<circle cx="614.3" cy="292.2" r="3.4" fill="url(#gsage)"/>
<circle cx="620.6" cy="288.1" r="3.4" fill="url(#gsage)"/>
<circle cx="626.9" cy="284.0" r="3.4" fill="url(#gsage)"/>
<circle cx="633.3" cy="279.9" r="3.4" fill="url(#gsage)"/>
<circle cx="639.6" cy="275.8" r="3.4" fill="url(#gsage)"/>
<circle cx="645.9" cy="271.8" r="3.4" fill="url(#gsage)"/>
<circle cx="652.2" cy="267.7" r="3.4" fill="url(#gsage)"/>
<circle cx="658.5" cy="263.6" r="3.4" fill="url(#gsage)"/>
<circle cx="601.1" cy="308.3" r="3.4" fill="url(#gsage)"/>
<circle cx="607.5" cy="304.1" r="3.4" fill="url(#gsage)"/>
<circle cx="613.8" cy="300.0" r="3.4" fill="url(#gsage)"/>
<circle cx="620.1" cy="295.8" r="3.4" fill="url(#gsage)"/>
<circle cx="626.4" cy="291.6" r="3.4" fill="url(#gsage)"/>
<circle cx="632.7" cy="287.4" r="3.4" fill="url(#gsage)"/>
<circle cx="639.0" cy="283.3" r="3.4" fill="url(#gsage)"/>
<circle cx="645.3" cy="279.1" r="3.4" fill="url(#gsage)"/>
<circle cx="651.6" cy="274.9" r="3.4" fill="url(#gsage)"/>
<circle cx="657.9" cy="270.8" r="3.4" fill="url(#gsage)"/>
<circle cx="664.2" cy="266.6" r="3.4" fill="url(#gsage)"/>
<circle cx="606.9" cy="312.2" r="3.4" fill="url(#gsage)"/>
<circle cx="613.2" cy="307.9" r="3.4" fill="url(#gsage)"/>
<circle cx="619.5" cy="303.7" r="3.4" fill="url(#gsage)"/>
<circle cx="625.8" cy="299.4" r="3.4" fill="url(#gsage)"/>
<circle cx="632.1" cy="295.1" r="3.4" fill="url(#gsage)"/>
<circle cx="638.4" cy="290.9" r="3.4" fill="url(#gsage)"/>
<circle cx="644.7" cy="286.6" r="3.4" fill="url(#gsage)"/>
<circle cx="651.1" cy="282.3" r="3.4" fill="url(#gsage)"/>
<circle cx="657.4" cy="278.1" r="3.4" fill="url(#gsage)"/>
<circle cx="663.7" cy="273.8" r="3.4" fill="url(#gsage)"/>
<circle cx="670.0" cy="269.6" r="3.4" fill="url(#gsage)"/>
<circle cx="612.6" cy="316.1" r="3.4" fill="url(#gsage)"/>
<circle cx="618.9" cy="311.8" r="3.4" fill="url(#gsage)"/>
<circle cx="625.2" cy="307.4" r="3.4" fill="url(#gsage)"/>
<circle cx="631.5" cy="303.0" r="3.4" fill="url(#gsage)"/>
<circle cx="637.9" cy="298.7" r="3.4" fill="url(#gsage)"/>
<circle cx="644.2" cy="294.3" r="3.4" fill="url(#gsage)"/>
<circle cx="650.5" cy="290.0" r="3.4" fill="url(#gsage)"/>
<circle cx="656.8" cy="285.6" r="3.4" fill="url(#gsage)"/>
<circle cx="663.1" cy="281.2" r="3.4" fill="url(#gsage)"/>
<circle cx="669.4" cy="276.9" r="3.4" fill="url(#gsage)"/>
<circle cx="675.8" cy="272.5" r="3.4" fill="url(#gsage)"/>
</g>
<polygon points="546.6,273.5 614.4,237.7 621.0,241.0 553.1,278.0" fill="#ff5a70" opacity="0.5"/>
<polygon points="546.6,273.5 553.1,278.0 553.1,284.4 546.6,279.9" fill="#e04a5a" opacity="0.6"/>
<polygon points="4.0,249.0 108.7,319.2 108.7,323.8 4.0,253.6" fill="#3d3f39" />
<polygon points="108.7,319.2 167.2,277.2 167.2,281.8 108.7,323.8" fill="#363832" />
<polygon points="4.0,249.0 62.5,220.5 167.2,277.2 108.7,319.2" fill="#55584f" />
<circle cx="60.4" cy="228.9" r="3.6" fill="url(#gball)"/>
<circle cx="55.0" cy="231.3" r="3.6" fill="url(#gball)"/>
<circle cx="49.6" cy="233.7" r="3.6" fill="url(#gball)"/>
<circle cx="44.2" cy="236.2" r="3.6" fill="url(#gball)"/>
<circle cx="38.8" cy="238.6" r="3.6" fill="url(#gball)"/>
<circle cx="84.1" cy="241.0" r="3.6" fill="url(#gball)"/>
<circle cx="33.4" cy="241.0" r="3.6" fill="url(#gball)"/>
<circle cx="28.0" cy="243.4" r="3.6" fill="url(#gball)"/>
<circle cx="78.6" cy="243.8" r="3.6" fill="url(#gball)"/>
<circle cx="88.8" cy="244.2" r="3.6" fill="url(#gball)"/>
<circle cx="22.6" cy="245.9" r="3.6" fill="url(#gball)"/>
<circle cx="73.0" cy="246.7" r="3.6" fill="url(#gball)"/>
<circle cx="93.5" cy="247.3" r="3.6" fill="url(#gball)"/>
<circle cx="17.2" cy="248.3" r="3.6" fill="url(#gball)"/>
<circle cx="67.5" cy="249.5" r="3.6" fill="url(#gball)"/>
<circle cx="98.3" cy="250.5" r="3.6" fill="url(#gball)"/>
<circle cx="11.8" cy="250.7" r="3.6" fill="url(#gball)"/>
<circle cx="61.9" cy="252.3" r="3.6" fill="url(#gball)"/>
<circle cx="103.0" cy="253.6" r="3.6" fill="url(#gball)"/>
<circle cx="17.4" cy="254.6" r="3.6" fill="url(#gball)"/>
<circle cx="56.4" cy="255.2" r="3.6" fill="url(#gball)"/>
<circle cx="107.7" cy="256.8" r="3.6" fill="url(#gball)"/>
<circle cx="50.8" cy="258.0" r="3.6" fill="url(#gball)"/>
<circle cx="23.0" cy="258.6" r="3.6" fill="url(#gball)"/>
<circle cx="102.3" cy="259.6" r="3.6" fill="url(#gball)"/>
<circle cx="45.3" cy="260.8" r="3.6" fill="url(#gball)"/>
<circle cx="96.9" cy="262.5" r="3.6" fill="url(#gball)"/>
<circle cx="28.6" cy="262.6" r="3.6" fill="url(#gball)"/>
<circle cx="39.7" cy="263.7" r="3.6" fill="url(#gball)"/>
<circle cx="91.5" cy="265.3" r="3.6" fill="url(#gball)"/>
<circle cx="34.2" cy="266.5" r="3.6" fill="url(#gball)"/>
<circle cx="131.4" cy="266.5" r="3.6" fill="url(#gball)"/>
<circle cx="86.1" cy="268.1" r="3.6" fill="url(#gball)"/>
<circle cx="136.6" cy="269.7" r="3.6" fill="url(#gball)"/>
<circle cx="126.1" cy="269.9" r="3.6" fill="url(#gball)"/>
<circle cx="80.7" cy="271.0" r="3.6" fill="url(#gball)"/>
<circle cx="141.9" cy="272.8" r="3.6" fill="url(#gball)"/>
<circle cx="120.9" cy="273.2" r="3.6" fill="url(#gball)"/>
<circle cx="75.3" cy="273.8" r="3.6" fill="url(#gball)"/>
<circle cx="147.1" cy="276.0" r="3.6" fill="url(#gball)"/>
<circle cx="115.6" cy="276.6" r="3.6" fill="url(#gball)"/>
<circle cx="69.9" cy="276.6" r="3.6" fill="url(#gball)"/>
<circle cx="152.4" cy="279.1" r="3.6" fill="url(#gball)"/>
<circle cx="64.5" cy="279.5" r="3.6" fill="url(#gball)"/>
<circle cx="110.4" cy="279.9" r="3.6" fill="url(#gball)"/>
<circle cx="59.1" cy="282.3" r="3.6" fill="url(#gball)"/>
<circle cx="157.6" cy="282.3" r="3.6" fill="url(#gball)"/>
<circle cx="105.1" cy="283.3" r="3.6" fill="url(#gball)"/>
<circle cx="64.1" cy="285.2" r="3.6" fill="url(#gball)"/>
<circle cx="152.7" cy="285.6" r="3.6" fill="url(#gball)"/>
<circle cx="99.9" cy="286.6" r="3.6" fill="url(#gball)"/>
<circle cx="69.1" cy="288.1" r="3.6" fill="url(#gball)"/>
<circle cx="147.9" cy="288.9" r="3.6" fill="url(#gball)"/>
<circle cx="94.6" cy="290.0" r="3.6" fill="url(#gball)"/>
<circle cx="74.1" cy="290.9" r="3.6" fill="url(#gball)"/>
<circle cx="143.0" cy="292.1" r="3.6" fill="url(#gball)"/>
<circle cx="89.4" cy="293.3" r="3.6" fill="url(#gball)"/>
<circle cx="79.1" cy="293.8" r="3.6" fill="url(#gball)"/>
<circle cx="138.2" cy="295.4" r="3.6" fill="url(#gball)"/>
<circle cx="84.1" cy="296.7" r="3.6" fill="url(#gball)"/>
<circle cx="133.3" cy="298.7" r="3.6" fill="url(#gball)"/>
<circle cx="128.4" cy="302.0" r="3.6" fill="url(#gball)"/>
<circle cx="123.6" cy="305.3" r="3.6" fill="url(#gball)"/>
<circle cx="118.7" cy="308.5" r="3.6" fill="url(#gball)"/>
<circle cx="113.9" cy="311.8" r="3.6" fill="url(#gball)"/>
<circle cx="109.0" cy="315.1" r="3.6" fill="url(#gball)"/>
<g font-family="Liberation Sans, sans-serif">
<text x="9.2" y="431.2" font-size="20" font-weight="bold" text-anchor="start" fill="#000"  stroke="#000" stroke-width="0.2">b</text>
<text x="48.6" y="644.9" font-size="10.6" font-weight="bold" text-anchor="end" fill="#111"  stroke="#111" stroke-width="0.2">10</text>
<text x="49.0" y="640.1" font-size="8.6" font-weight="bold" text-anchor="start" fill="#111"  stroke="#111" stroke-width="0.2">0</text>
<line x1="57.8" y1="632.1" x2="60.0" y2="632.1" stroke="#4a4a4a" stroke-width="0.8" />
<line x1="57.8" y1="626.9" x2="60.0" y2="626.9" stroke="#4a4a4a" stroke-width="0.8" />
<line x1="57.8" y1="623.2" x2="60.0" y2="623.2" stroke="#4a4a4a" stroke-width="0.8" />
<line x1="57.8" y1="620.3" x2="60.0" y2="620.3" stroke="#4a4a4a" stroke-width="0.8" />
<line x1="57.8" y1="618.0" x2="60.0" y2="618.0" stroke="#4a4a4a" stroke-width="0.8" />
<line x1="57.8" y1="616.0" x2="60.0" y2="616.0" stroke="#4a4a4a" stroke-width="0.8" />
<line x1="57.8" y1="614.3" x2="60.0" y2="614.3" stroke="#4a4a4a" stroke-width="0.8" />
<line x1="57.8" y1="612.8" x2="60.0" y2="612.8" stroke="#4a4a4a" stroke-width="0.8" />
<line x1="57.8" y1="611.4" x2="61.8" y2="611.4" stroke="#4a4a4a" stroke-width="1" />
<text x="48.6" y="615.3" font-size="10.6" font-weight="bold" text-anchor="end" fill="#111"  stroke="#111" stroke-width="0.2">10</text>
<text x="49.0" y="610.5" font-size="8.6" font-weight="bold" text-anchor="start" fill="#111"  stroke="#111" stroke-width="0.2">1</text>
<line x1="57.8" y1="602.5" x2="60.0" y2="602.5" stroke="#4a4a4a" stroke-width="0.8" />
<line x1="57.8" y1="597.3" x2="60.0" y2="597.3" stroke="#4a4a4a" stroke-width="0.8" />
<line x1="57.8" y1="593.6" x2="60.0" y2="593.6" stroke="#4a4a4a" stroke-width="0.8" />
<line x1="57.8" y1="590.7" x2="60.0" y2="590.7" stroke="#4a4a4a" stroke-width="0.8" />
<line x1="57.8" y1="588.4" x2="60.0" y2="588.4" stroke="#4a4a4a" stroke-width="0.8" />
<line x1="57.8" y1="586.4" x2="60.0" y2="586.4" stroke="#4a4a4a" stroke-width="0.8" />
<line x1="57.8" y1="584.7" x2="60.0" y2="584.7" stroke="#4a4a4a" stroke-width="0.8" />
<line x1="57.8" y1="583.2" x2="60.0" y2="583.2" stroke="#4a4a4a" stroke-width="0.8" />
<line x1="57.8" y1="581.8" x2="61.8" y2="581.8" stroke="#4a4a4a" stroke-width="1" />
<text x="48.6" y="585.7" font-size="10.6" font-weight="bold" text-anchor="end" fill="#111"  stroke="#111" stroke-width="0.2">10</text>
<text x="49.0" y="580.9" font-size="8.6" font-weight="bold" text-anchor="start" fill="#111"  stroke="#111" stroke-width="0.2">2</text>
<line x1="57.8" y1="572.9" x2="60.0" y2="572.9" stroke="#4a4a4a" stroke-width="0.8" />
<line x1="57.8" y1="567.7" x2="60.0" y2="567.7" stroke="#4a4a4a" stroke-width="0.8" />
<line x1="57.8" y1="564.0" x2="60.0" y2="564.0" stroke="#4a4a4a" stroke-width="0.8" />
<line x1="57.8" y1="561.1" x2="60.0" y2="561.1" stroke="#4a4a4a" stroke-width="0.8" />
<line x1="57.8" y1="558.8" x2="60.0" y2="558.8" stroke="#4a4a4a" stroke-width="0.8" />
<line x1="57.8" y1="556.8" x2="60.0" y2="556.8" stroke="#4a4a4a" stroke-width="0.8" />
<line x1="57.8" y1="555.1" x2="60.0" y2="555.1" stroke="#4a4a4a" stroke-width="0.8" />
<line x1="57.8" y1="553.6" x2="60.0" y2="553.6" stroke="#4a4a4a" stroke-width="0.8" />
<line x1="57.8" y1="552.2" x2="61.8" y2="552.2" stroke="#4a4a4a" stroke-width="1" />
<text x="48.6" y="556.1" font-size="10.6" font-weight="bold" text-anchor="end" fill="#111"  stroke="#111" stroke-width="0.2">10</text>
<text x="49.0" y="551.3" font-size="8.6" font-weight="bold" text-anchor="start" fill="#111"  stroke="#111" stroke-width="0.2">3</text>
<line x1="57.8" y1="543.3" x2="60.0" y2="543.3" stroke="#4a4a4a" stroke-width="0.8" />
<line x1="57.8" y1="538.1" x2="60.0" y2="538.1" stroke="#4a4a4a" stroke-width="0.8" />
<line x1="57.8" y1="534.4" x2="60.0" y2="534.4" stroke="#4a4a4a" stroke-width="0.8" />
<line x1="57.8" y1="531.5" x2="60.0" y2="531.5" stroke="#4a4a4a" stroke-width="0.8" />
<line x1="57.8" y1="529.2" x2="60.0" y2="529.2" stroke="#4a4a4a" stroke-width="0.8" />
<line x1="57.8" y1="527.2" x2="60.0" y2="527.2" stroke="#4a4a4a" stroke-width="0.8" />
<line x1="57.8" y1="525.5" x2="60.0" y2="525.5" stroke="#4a4a4a" stroke-width="0.8" />
<line x1="57.8" y1="524.0" x2="60.0" y2="524.0" stroke="#4a4a4a" stroke-width="0.8" />
<line x1="57.8" y1="522.6" x2="61.8" y2="522.6" stroke="#4a4a4a" stroke-width="1" />
<text x="48.6" y="526.5" font-size="10.6" font-weight="bold" text-anchor="end" fill="#111"  stroke="#111" stroke-width="0.2">10</text>
<text x="49.0" y="521.7" font-size="8.6" font-weight="bold" text-anchor="start" fill="#111"  stroke="#111" stroke-width="0.2">4</text>
<line x1="57.8" y1="513.7" x2="60.0" y2="513.7" stroke="#4a4a4a" stroke-width="0.8" />
<line x1="57.8" y1="508.5" x2="60.0" y2="508.5" stroke="#4a4a4a" stroke-width="0.8" />
<line x1="57.8" y1="504.8" x2="60.0" y2="504.8" stroke="#4a4a4a" stroke-width="0.8" />
<line x1="57.8" y1="501.9" x2="60.0" y2="501.9" stroke="#4a4a4a" stroke-width="0.8" />
<line x1="57.8" y1="499.6" x2="60.0" y2="499.6" stroke="#4a4a4a" stroke-width="0.8" />
<line x1="57.8" y1="497.6" x2="60.0" y2="497.6" stroke="#4a4a4a" stroke-width="0.8" />
<line x1="57.8" y1="495.9" x2="60.0" y2="495.9" stroke="#4a4a4a" stroke-width="0.8" />
<line x1="57.8" y1="494.4" x2="60.0" y2="494.4" stroke="#4a4a4a" stroke-width="0.8" />
<line x1="57.8" y1="493.0" x2="61.8" y2="493.0" stroke="#4a4a4a" stroke-width="1" />
<text x="48.6" y="496.9" font-size="10.6" font-weight="bold" text-anchor="end" fill="#111"  stroke="#111" stroke-width="0.2">10</text>
<text x="49.0" y="492.1" font-size="8.6" font-weight="bold" text-anchor="start" fill="#111"  stroke="#111" stroke-width="0.2">5</text>
<line x1="57.8" y1="484.1" x2="60.0" y2="484.1" stroke="#4a4a4a" stroke-width="0.8" />
<line x1="57.8" y1="478.9" x2="60.0" y2="478.9" stroke="#4a4a4a" stroke-width="0.8" />
<line x1="57.8" y1="475.2" x2="60.0" y2="475.2" stroke="#4a4a4a" stroke-width="0.8" />
<line x1="57.8" y1="472.3" x2="60.0" y2="472.3" stroke="#4a4a4a" stroke-width="0.8" />
<line x1="57.8" y1="470.0" x2="60.0" y2="470.0" stroke="#4a4a4a" stroke-width="0.8" />
<line x1="57.8" y1="468.0" x2="60.0" y2="468.0" stroke="#4a4a4a" stroke-width="0.8" />
<line x1="57.8" y1="466.3" x2="60.0" y2="466.3" stroke="#4a4a4a" stroke-width="0.8" />
<line x1="57.8" y1="464.8" x2="60.0" y2="464.8" stroke="#4a4a4a" stroke-width="0.8" />
<line x1="57.8" y1="463.4" x2="61.8" y2="463.4" stroke="#4a4a4a" stroke-width="1" />
<text x="48.6" y="467.3" font-size="10.6" font-weight="bold" text-anchor="end" fill="#111"  stroke="#111" stroke-width="0.2">10</text>
<text x="49.0" y="462.5" font-size="8.6" font-weight="bold" text-anchor="start" fill="#111"  stroke="#111" stroke-width="0.2">6</text>
<line x1="57.8" y1="454.5" x2="60.0" y2="454.5" stroke="#4a4a4a" stroke-width="0.8" />
<line x1="57.8" y1="449.3" x2="60.0" y2="449.3" stroke="#4a4a4a" stroke-width="0.8" />
<line x1="57.8" y1="445.6" x2="60.0" y2="445.6" stroke="#4a4a4a" stroke-width="0.8" />
<line x1="57.8" y1="442.7" x2="60.0" y2="442.7" stroke="#4a4a4a" stroke-width="0.8" />
<line x1="57.8" y1="440.4" x2="60.0" y2="440.4" stroke="#4a4a4a" stroke-width="0.8" />
<line x1="57.8" y1="438.4" x2="60.0" y2="438.4" stroke="#4a4a4a" stroke-width="0.8" />
<line x1="57.8" y1="436.7" x2="60.0" y2="436.7" stroke="#4a4a4a" stroke-width="0.8" />
<line x1="57.8" y1="435.2" x2="60.0" y2="435.2" stroke="#4a4a4a" stroke-width="0.8" />
<text x="48.6" y="437.7" font-size="10.6" font-weight="bold" text-anchor="end" fill="#111"  stroke="#111" stroke-width="0.2">10</text>
<text x="49.0" y="432.9" font-size="8.6" font-weight="bold" text-anchor="start" fill="#111"  stroke="#111" stroke-width="0.2">7</text>
<line x1="83.1" y1="640.8" x2="83.1" y2="637.3" stroke="#4a4a4a" stroke-width="1" />
<text x="83.1" y="652.8" font-size="10.6" font-weight="bold" text-anchor="middle" fill="#111"  stroke="#111" stroke-width="0.2">5</text>
<line x1="109.0" y1="640.8" x2="109.0" y2="637.3" stroke="#4a4a4a" stroke-width="1" />
<text x="109.0" y="652.8" font-size="10.6" font-weight="bold" text-anchor="middle" fill="#111"  stroke="#111" stroke-width="0.2">10</text>
<line x1="134.9" y1="640.8" x2="134.9" y2="637.3" stroke="#4a4a4a" stroke-width="1" />
<text x="134.9" y="652.8" font-size="10.6" font-weight="bold" text-anchor="middle" fill="#111"  stroke="#111" stroke-width="0.2">20</text>
<line x1="160.7" y1="640.8" x2="160.7" y2="637.3" stroke="#4a4a4a" stroke-width="1" />
<text x="160.7" y="652.8" font-size="10.6" font-weight="bold" text-anchor="middle" fill="#111"  stroke="#111" stroke-width="0.2">25</text>
<line x1="186.6" y1="640.8" x2="186.6" y2="637.3" stroke="#4a4a4a" stroke-width="1" />
<text x="186.6" y="652.8" font-size="10.6" font-weight="bold" text-anchor="middle" fill="#111"  stroke="#111" stroke-width="0.2">33</text>
<line x1="212.5" y1="640.8" x2="212.5" y2="637.3" stroke="#4a4a4a" stroke-width="1" />
<text x="212.5" y="652.8" font-size="10.6" font-weight="bold" text-anchor="middle" fill="#111"  stroke="#111" stroke-width="0.2">50</text>
<line x1="238.4" y1="640.8" x2="238.4" y2="637.3" stroke="#4a4a4a" stroke-width="1" />
<text x="238.4" y="652.8" font-size="10.6" font-weight="bold" text-anchor="middle" fill="#111"  stroke="#111" stroke-width="0.2">55</text>
<line x1="264.3" y1="640.8" x2="264.3" y2="637.3" stroke="#4a4a4a" stroke-width="1" />
<text x="264.3" y="652.8" font-size="10.6" font-weight="bold" text-anchor="middle" fill="#111"  stroke="#111" stroke-width="0.2">60</text>
<line x1="290.1" y1="640.8" x2="290.1" y2="637.3" stroke="#4a4a4a" stroke-width="1" />
<text x="290.1" y="652.8" font-size="10.6" font-weight="bold" text-anchor="middle" fill="#111"  stroke="#111" stroke-width="0.2">67</text>
<line x1="316.0" y1="640.8" x2="316.0" y2="637.3" stroke="#4a4a4a" stroke-width="1" />
<text x="316.0" y="652.8" font-size="10.6" font-weight="bold" text-anchor="middle" fill="#111"  stroke="#111" stroke-width="0.2">75</text>
<line x1="201.6" y1="434.0" x2="201.6" y2="640.8" stroke="#e8373a" stroke-width="1" stroke-dasharray="2.2,1.6"/>
<line x1="222.2" y1="434.0" x2="222.2" y2="640.8" stroke="#e8373a" stroke-width="1" stroke-dasharray="2.2,1.6"/>
<rect x="57.8" y="434.0" width="284.4" height="206.8" fill="none" stroke="#4a4a4a" stroke-width="1.3"/>
<polyline points="83.1,457.4 109.0,460.4 135.0,462.1 160.8,466.6 186.9,498.2 212.4,584.1 238.7,619.1 264.3,629.2 290.1,630.3 316.0,631.0" fill="none" stroke="#000" stroke-width="1.4" />
<rect x="81.0" y="455.3" width="4.2" height="4.2" fill="#000" />
<rect x="106.9" y="458.3" width="4.2" height="4.2" fill="#000" />
<rect x="132.9" y="460.0" width="4.2" height="4.2" fill="#000" />
<rect x="158.7" y="464.5" width="4.2" height="4.2" fill="#000" />
<rect x="184.8" y="496.1" width="4.2" height="4.2" fill="#000" />
<rect x="210.3" y="582.0" width="4.2" height="4.2" fill="#000" />
<rect x="236.6" y="617.0" width="4.2" height="4.2" fill="#000" />
<rect x="262.2" y="627.1" width="4.2" height="4.2" fill="#000" />
<rect x="288.0" y="628.2" width="4.2" height="4.2" fill="#000" />
<rect x="313.9" y="628.9" width="4.2" height="4.2" fill="#000" />
<text x="119.4" y="552.5" font-size="9.7" font-weight="bold" text-anchor="start" fill="#ee2b2b"  stroke="#ee2b2b" stroke-width="0.2">Percolation</text>
<text x="119.4" y="564.3" font-size="9.7" font-weight="bold" text-anchor="start" fill="#ee2b2b"  stroke="#ee2b2b" stroke-width="0.2">threshold</text>
<text transform="translate(31.3,536.7) rotate(-90)" font-size="14.4" font-weight="bold" text-anchor="middle" fill="#111" stroke="#111" stroke-width="0.2">Resistance (Ω)</text>
<text x="199.7" y="674.9" font-size="14.75" font-weight="bold" text-anchor="middle" fill="#111"  stroke="#111" stroke-width="0.2">% EGaIn inside the composite</text>
<text x="351.0" y="427.6" font-size="20" font-weight="bold" text-anchor="start" fill="#000"  stroke="#000" stroke-width="0.2">c</text>
<line x1="405.0" y1="442.9" x2="407.3" y2="442.9" stroke="#4a4a4a" stroke-width="0.8" />
<text x="399.4" y="437.2" font-size="10.9" font-weight="bold" text-anchor="end" fill="#111"  stroke="#111" stroke-width="0.2">2.70</text>
<line x1="405.0" y1="452.4" x2="409.0" y2="452.4" stroke="#4a4a4a" stroke-width="1" />
<line x1="405.0" y1="461.9" x2="407.3" y2="461.9" stroke="#4a4a4a" stroke-width="0.8" />
<text x="399.4" y="456.2" font-size="10.9" font-weight="bold" text-anchor="end" fill="#111"  stroke="#111" stroke-width="0.2">2.65</text>
<line x1="405.0" y1="471.4" x2="409.0" y2="471.4" stroke="#4a4a4a" stroke-width="1" />
<line x1="405.0" y1="480.9" x2="407.3" y2="480.9" stroke="#4a4a4a" stroke-width="0.8" />
<text x="399.4" y="475.2" font-size="10.9" font-weight="bold" text-anchor="end" fill="#111"  stroke="#111" stroke-width="0.2">2.60</text>
<line x1="405.0" y1="490.4" x2="409.0" y2="490.4" stroke="#4a4a4a" stroke-width="1" />
<line x1="405.0" y1="499.9" x2="407.3" y2="499.9" stroke="#4a4a4a" stroke-width="0.8" />
<text x="399.4" y="494.2" font-size="10.9" font-weight="bold" text-anchor="end" fill="#111"  stroke="#111" stroke-width="0.2">2.55</text>
<line x1="405.0" y1="509.4" x2="409.0" y2="509.4" stroke="#4a4a4a" stroke-width="1" />
<line x1="405.0" y1="518.9" x2="407.3" y2="518.9" stroke="#4a4a4a" stroke-width="0.8" />
<text x="399.4" y="513.2" font-size="10.9" font-weight="bold" text-anchor="end" fill="#111"  stroke="#111" stroke-width="0.2">2.50</text>
<line x1="405.0" y1="528.4" x2="409.0" y2="528.4" stroke="#4a4a4a" stroke-width="1" />
<line x1="405.0" y1="537.9" x2="407.3" y2="537.9" stroke="#4a4a4a" stroke-width="0.8" />
<text x="399.4" y="532.2" font-size="10.9" font-weight="bold" text-anchor="end" fill="#111"  stroke="#111" stroke-width="0.2">2.45</text>
<line x1="405.0" y1="547.4" x2="409.0" y2="547.4" stroke="#4a4a4a" stroke-width="1" />
<line x1="405.0" y1="556.9" x2="407.3" y2="556.9" stroke="#4a4a4a" stroke-width="0.8" />
<text x="399.4" y="551.2" font-size="10.9" font-weight="bold" text-anchor="end" fill="#111"  stroke="#111" stroke-width="0.2">2.40</text>
<line x1="405.0" y1="566.4" x2="409.0" y2="566.4" stroke="#4a4a4a" stroke-width="1" />
<line x1="405.0" y1="575.9" x2="407.3" y2="575.9" stroke="#4a4a4a" stroke-width="0.8" />
<text x="399.4" y="570.2" font-size="10.9" font-weight="bold" text-anchor="end" fill="#111"  stroke="#111" stroke-width="0.2">2.35</text>
<line x1="405.0" y1="585.4" x2="409.0" y2="585.4" stroke="#4a4a4a" stroke-width="1" />
<line x1="405.0" y1="594.9" x2="407.3" y2="594.9" stroke="#4a4a4a" stroke-width="0.8" />
<text x="399.4" y="589.2" font-size="10.9" font-weight="bold" text-anchor="end" fill="#111"  stroke="#111" stroke-width="0.2">2.30</text>
<line x1="405.0" y1="604.4" x2="409.0" y2="604.4" stroke="#4a4a4a" stroke-width="1" />
<line x1="405.0" y1="613.9" x2="407.3" y2="613.9" stroke="#4a4a4a" stroke-width="0.8" />
<text x="399.4" y="608.2" font-size="10.9" font-weight="bold" text-anchor="end" fill="#111"  stroke="#111" stroke-width="0.2">2.25</text>
<line x1="405.0" y1="623.4" x2="409.0" y2="623.4" stroke="#4a4a4a" stroke-width="1" />
<line x1="405.0" y1="632.9" x2="407.3" y2="632.9" stroke="#4a4a4a" stroke-width="0.8" />
<text x="399.4" y="627.2" font-size="10.9" font-weight="bold" text-anchor="end" fill="#111"  stroke="#111" stroke-width="0.2">2.20</text>
<text x="399.4" y="646.2" font-size="10.9" font-weight="bold" text-anchor="end" fill="#111"  stroke="#111" stroke-width="0.2">2.15</text>
<line x1="418.7" y1="642.4" x2="418.7" y2="638.4" stroke="#4a4a4a" stroke-width="1" />
<text x="418.7" y="655.6" font-size="10.9" font-weight="bold" text-anchor="middle" fill="#111"  stroke="#111" stroke-width="0.2">0</text>
<line x1="446.4" y1="642.4" x2="446.4" y2="640.1" stroke="#4a4a4a" stroke-width="0.8" />
<line x1="474.1" y1="642.4" x2="474.1" y2="638.4" stroke="#4a4a4a" stroke-width="1" />
<text x="474.1" y="655.6" font-size="10.9" font-weight="bold" text-anchor="middle" fill="#111"  stroke="#111" stroke-width="0.2">10000</text>
<line x1="501.9" y1="642.4" x2="501.9" y2="640.1" stroke="#4a4a4a" stroke-width="0.8" />
<line x1="529.6" y1="642.4" x2="529.6" y2="638.4" stroke="#4a4a4a" stroke-width="1" />
<text x="529.6" y="655.6" font-size="10.9" font-weight="bold" text-anchor="middle" fill="#111"  stroke="#111" stroke-width="0.2">20000</text>
<line x1="557.3" y1="642.4" x2="557.3" y2="640.1" stroke="#4a4a4a" stroke-width="0.8" />
<line x1="585.0" y1="642.4" x2="585.0" y2="638.4" stroke="#4a4a4a" stroke-width="1" />
<text x="585.0" y="655.6" font-size="10.9" font-weight="bold" text-anchor="middle" fill="#111"  stroke="#111" stroke-width="0.2">30000</text>
<line x1="612.8" y1="642.4" x2="612.8" y2="640.1" stroke="#4a4a4a" stroke-width="0.8" />
<line x1="640.5" y1="642.4" x2="640.5" y2="638.4" stroke="#4a4a4a" stroke-width="1" />
<text x="640.5" y="655.6" font-size="10.9" font-weight="bold" text-anchor="middle" fill="#111"  stroke="#111" stroke-width="0.2">40000</text>
<line x1="668.2" y1="642.4" x2="668.2" y2="640.1" stroke="#4a4a4a" stroke-width="0.8" />
<polygon points="418.7,611.5 418.7,610.8 418.7,610.1 418.7,609.4 418.7,608.7 418.7,608.0 418.6,607.3 418.6,606.6 418.6,605.9 418.6,605.2 418.6,604.5 418.6,603.8 418.6,603.1 418.6,602.4 418.6,601.7 418.6,601.0 418.6,600.3 418.5,599.6 418.5,598.9 418.5,598.2 418.5,597.5 418.5,596.8 418.5,596.1 418.5,595.4 418.5,594.7 418.5,594.0 418.5,593.3 418.5,592.6 418.5,591.9 418.4,591.2 418.4,590.5 418.4,589.8 418.4,589.1 418.4,588.4 418.4,587.7 418.5,587.0 418.6,586.2 418.7,585.5 418.8,584.7 418.9,584.0 419.0,583.3 419.1,582.5 419.1,581.8 419.2,581.0 419.3,580.3 419.4,579.6 419.5,578.8 419.6,578.1 419.7,577.3 419.8,576.6 420.0,575.9 420.2,575.2 420.4,574.5 420.6,573.8 420.8,573.1 421.0,572.4 421.2,571.7 421.4,571.0 421.6,570.3 421.7,569.6 421.9,568.9 422.1,568.2 422.3,567.5 422.5,566.8 422.7,566.1 422.9,565.4 423.1,564.7 423.3,564.0 423.5,563.3 423.6,562.6 423.8,561.9 424.0,561.2 424.2,560.5 424.4,559.8 424.5,559.1 424.7,558.4 424.9,557.7 425.0,557.0 425.2,556.3 425.4,555.6 425.9,554.8 426.3,554.4 426.8,553.8 427.3,553.2 427.7,552.5 428.2,552.1 429.1,551.7 430.0,551.5 430.9,551.4 431.3,550.8 431.7,550.1 432.1,549.6 432.5,548.7 433.0,548.4 433.4,547.5 433.8,547.4 434.2,546.8 434.6,546.2 435.0,545.2 435.4,544.8 435.8,544.2 436.3,544.0 436.7,542.9 437.1,542.7 437.5,542.2 437.9,541.7 438.3,540.7 438.7,540.4 439.1,540.0 439.5,539.3 440.0,538.6 440.4,538.0 440.8,537.4 441.2,537.0 441.6,536.2 442.0,535.9 442.4,535.0 442.8,534.3 443.3,533.8 443.7,533.6 444.1,532.9 444.5,532.0 444.9,531.9 445.4,531.0 445.8,530.4 446.3,529.9 446.8,529.6 447.2,529.0 447.7,528.4 448.2,528.1 448.6,527.4 449.1,526.9 449.6,526.1 450.0,526.0 450.5,525.3 451.0,524.5 451.4,524.0 451.9,523.9 452.4,523.0 452.8,522.7 453.3,521.8 453.8,521.7 454.2,520.9 454.7,520.7 455.3,519.9 455.8,519.9 456.4,519.4 456.9,518.6 457.5,518.3 458.1,518.1 458.6,517.5 459.2,516.0 459.7,516.8 460.3,516.3 460.9,515.7 461.4,515.6 462.0,515.2 462.5,514.8 463.1,514.4 463.6,513.5 464.0,513.2 464.5,512.2 464.9,512.0 465.4,511.1 465.8,510.9 466.3,510.0 466.8,509.3 467.3,509.0 467.8,508.2 468.3,508.1 468.9,507.3 469.4,506.7 469.9,505.9 470.4,505.6 470.9,504.9 471.4,504.7 472.1,504.0 472.1,524.9 471.6,526.8 471.1,526.2 470.6,526.7 470.2,527.4 469.7,527.7 469.2,528.4 468.7,528.9 468.2,529.6 467.7,530.0 467.3,530.3 466.8,530.9 466.3,531.4 465.8,531.9 465.3,532.8 464.9,533.1 464.4,533.8 464.0,534.2 463.5,534.9 463.0,535.5 462.6,536.1 462.1,536.7 461.7,537.2 461.2,537.7 460.7,538.3 460.3,539.0 459.8,539.7 459.4,539.8 458.9,540.3 458.4,541.3 458.0,541.4 457.5,542.0 457.0,543.0 456.6,543.4 456.1,543.7 455.6,544.4 455.2,544.7 454.7,545.5 454.2,546.0 453.8,546.6 453.3,547.3 452.8,547.5 452.4,548.2 451.9,548.6 451.4,549.2 451.0,549.9 450.5,550.4 450.0,551.1 449.6,551.4 449.1,551.9 448.6,552.7 448.2,553.2 447.7,553.8 447.2,554.5 446.8,554.7 446.3,555.5 445.8,555.9 445.4,556.7 444.9,556.9 444.4,557.8 444.0,558.1 443.5,558.4 443.1,559.4 442.7,559.6 442.2,560.3 441.8,561.0 441.4,561.3 441.0,563.1 440.6,562.5 440.1,562.9 439.7,563.5 439.3,564.2 438.9,565.0 438.5,565.1 438.0,566.0 437.6,566.7 437.2,567.2 436.8,567.8 436.4,568.0 435.9,568.5 435.5,569.2 435.1,569.6 434.8,570.3 434.4,571.0 434.1,572.0 433.7,572.8 433.4,573.4 433.0,574.1 432.7,574.7 432.3,575.2 431.9,576.0 431.5,576.6 431.1,577.0 430.7,577.8 430.3,578.6 429.9,579.0 429.6,579.5 429.2,580.3 428.8,580.7 428.4,581.4 428.0,583.2 427.6,582.4 427.2,583.0 426.8,583.5 426.5,584.4 426.2,585.2 426.0,586.0 425.7,586.6 425.4,587.0 425.1,588.0 424.8,588.7 424.6,589.6 424.3,590.2 424.0,590.5 423.8,591.2 423.5,591.9 423.3,592.6 423.1,593.3 422.8,594.0 422.6,594.7 422.4,595.4 422.1,596.1 421.9,596.8 421.7,597.5 421.4,598.2 421.2,598.9 421.1,599.6 420.9,600.3 420.8,601.0 420.7,601.7 420.5,602.4 420.4,603.1 420.3,603.8 420.1,604.5 420.0,605.2 419.9,605.9 419.8,606.6 419.6,607.3 419.5,608.0 419.4,608.7 419.2,609.4 419.1,610.1" fill="#ef3e46" />
<polygon points="485.5,617.7 485.5,617.0 485.5,616.3 485.5,615.6 485.5,614.9 485.5,614.2 485.5,613.5 485.5,612.7 485.4,612.0 485.4,611.3 485.4,610.6 485.4,609.9 485.4,609.2 485.4,608.5 485.4,607.8 485.4,607.1 485.4,606.4 485.4,605.7 485.4,605.0 485.4,604.2 485.4,603.5 485.4,602.8 485.4,602.1 485.4,601.4 485.3,600.7 485.3,600.0 485.3,599.3 485.3,598.6 485.3,597.9 485.3,597.2 485.3,596.5 485.3,595.8 485.3,595.0 485.3,594.3 485.3,593.6 485.3,592.9 485.3,592.2 485.3,591.5 485.3,590.8 485.2,590.1 485.2,589.4 485.2,588.7 485.2,588.0 485.2,587.3 485.2,586.5 485.2,585.8 485.2,585.1 485.2,584.4 485.2,583.7 485.2,583.0 485.2,582.3 485.2,581.6 485.2,580.9 485.2,580.2 485.2,579.5 485.1,578.8 485.1,578.0 485.1,577.3 485.1,576.6 485.1,575.9 485.1,575.2 485.1,574.5 485.1,573.8 485.1,573.1 485.2,572.4 485.2,571.7 485.2,571.0 485.3,570.3 485.3,569.6 485.4,568.9 485.4,568.2 485.4,567.5 485.5,566.8 485.5,566.1 485.5,565.4 485.6,564.7 485.6,564.0 485.6,563.3 485.7,562.6 485.7,561.9 485.8,561.2 485.8,560.5 485.8,559.8 485.9,559.1 485.9,558.4 485.9,557.7 486.0,557.0 486.0,556.3 486.1,555.6 486.1,554.9 486.1,554.2 486.2,553.5 486.2,552.8 486.9,552.0 487.6,551.9 488.3,551.0 489.0,551.4 489.1,550.7 489.2,550.0 489.4,549.3 489.5,548.6 489.6,547.9 489.7,547.2 489.8,546.5 489.9,545.8 490.1,545.1 490.2,544.5 490.3,543.8 490.4,543.1 490.5,542.4 490.6,541.7 490.8,541.0 490.9,540.3 491.0,539.6 491.1,538.9 491.3,538.2 491.5,537.5 491.7,536.8 492.0,536.1 492.2,535.4 492.4,534.7 492.6,534.0 492.8,533.3 493.0,532.6 493.2,531.9 493.4,531.2 493.6,530.5 493.9,529.8 494.1,529.1 494.3,528.4 494.5,527.7 495.2,527.6 495.9,527.7 496.6,527.7 497.3,527.7 497.9,526.7 498.5,526.2 499.1,526.2 499.7,525.5 500.3,525.0 500.9,524.3 501.5,524.2 502.1,523.4 502.7,523.2 503.4,522.7 504.0,521.9 504.6,521.5 505.2,521.6 505.9,521.0 506.5,520.8 507.1,520.7 507.6,519.8 508.0,519.4 508.5,518.7 509.0,518.1 509.4,517.8 509.9,517.3 510.4,516.5 510.8,516.0 511.3,515.8 511.8,514.7 512.2,514.2 512.7,513.9 513.2,513.4 513.6,512.8 514.1,512.5 514.6,511.2 515.0,510.9 515.5,510.9 516.1,509.9 516.7,509.7 517.3,509.7 517.9,509.2 518.5,508.9 519.1,508.4 519.7,508.2 520.2,507.1 520.8,506.6 521.3,505.9 521.8,505.5 522.3,504.9 522.9,504.5 523.4,504.0 523.9,504.0 524.6,503.3 525.3,503.4 526.0,502.7 526.7,502.5 527.3,502.9 528.0,502.0 528.7,502.1 529.4,502.1 530.1,502.1 530.8,501.9 531.5,501.3 532.2,501.4 532.9,501.5 533.6,501.0 534.3,501.2 535.0,500.6 535.7,501.2 536.4,501.2 537.1,500.8 537.8,500.1 538.5,500.0 539.2,499.2 539.9,499.2 540.6,499.1 541.4,498.3 542.1,498.2 542.9,498.1 543.6,498.0 544.4,498.4 544.4,538.2 543.9,539.6 543.5,540.1 543.0,540.4 542.5,543.7 542.0,541.2 541.5,541.5 541.1,542.8 540.6,542.4 539.9,545.9 539.2,542.7 538.5,543.2 537.8,543.7 537.1,543.3 536.4,543.8 535.7,544.0 535.0,544.0 534.3,544.1 533.6,543.8 532.9,544.2 532.2,544.8 531.5,544.9 530.8,545.2 530.1,545.7 529.4,545.6 528.7,546.2 528.0,545.8 527.3,546.6 526.6,547.2 525.9,547.2 525.2,547.4 524.5,548.0 523.9,548.2 523.2,548.6 522.5,548.3 521.8,549.1 521.1,548.6 520.6,549.6 520.1,550.2 519.6,550.8 519.1,551.1 518.6,551.2 518.0,551.8 517.5,552.5 517.0,552.7 516.5,553.8 516.0,554.2 515.5,554.2 515.0,555.3 514.6,555.9 514.1,556.7 513.6,557.0 513.2,557.6 512.7,558.4 512.2,559.1 511.8,559.4 511.3,559.8 511.0,560.8 510.7,562.0 510.3,561.8 510.0,563.0 509.7,566.6 509.4,563.8 509.0,565.0 508.7,565.8 508.4,566.5 508.1,566.9 507.7,567.8 507.4,570.7 507.1,568.2 506.4,568.5 505.7,569.2 505.0,569.4 504.3,570.1 503.6,569.5 502.9,570.3 502.2,570.4 501.5,570.3 500.9,571.0 500.3,571.7 499.6,571.6 499.0,572.5 498.4,572.3 497.8,573.3 497.1,573.1 496.5,574.1 495.9,573.8 495.3,574.7 494.8,575.2 494.2,575.8 493.7,576.9 493.1,576.6 492.9,577.3 492.7,578.0 492.5,578.7 492.3,579.4 492.1,580.1 491.9,580.8 491.8,581.5 491.6,582.1 491.4,582.8 491.2,583.5 491.0,584.2 490.8,584.9 490.6,585.6 490.4,586.3 490.2,587.0 490.0,587.7 489.9,588.4 489.7,589.1 489.5,589.8 489.4,590.5 489.2,591.2 489.0,591.9 488.8,592.6 488.6,593.3 488.5,594.0 488.3,594.7 488.1,595.4 488.0,596.1 487.8,596.8 487.6,597.5 487.5,598.2 487.4,598.9 487.3,599.6 487.2,600.3 487.2,601.0 487.1,601.7 487.0,602.4 486.9,603.1 486.8,603.8 486.7,604.5 486.6,605.2 486.6,605.9 486.5,606.6 486.4,607.3 486.3,608.0 486.2,608.7" fill="#e67f30" />
<polygon points="552.3,617.0 552.3,616.3 552.3,615.6 552.3,614.9 552.3,614.2 552.3,613.5 552.3,612.8 552.3,612.1 552.3,611.4 552.3,610.6 552.3,609.9 552.3,609.2 552.3,608.5 552.3,607.8 552.3,607.1 552.3,606.4 552.3,605.7 552.3,605.0 552.3,604.3 552.3,603.6 552.3,602.9 552.3,602.2 552.3,601.5 552.3,600.8 552.3,600.1 552.3,599.3 552.3,598.6 552.3,597.9 552.3,597.2 552.3,596.5 552.3,595.8 552.3,595.1 552.3,594.4 552.3,593.7 552.3,593.0 552.3,592.3 552.3,591.6 552.3,590.9 552.3,590.2 552.3,589.5 552.3,588.8 552.3,588.0 552.3,587.3 552.3,586.6 552.3,585.9 552.3,585.2 552.3,584.5 552.3,583.8 552.3,583.1 552.3,582.4 552.3,581.7 552.3,581.0 552.3,580.3 552.3,579.6 552.3,578.9 552.3,578.2 552.3,577.5 552.3,576.7 552.3,576.0 552.3,575.3 552.3,574.6 552.3,573.9 552.3,573.2 552.3,572.5 552.3,571.8 552.3,571.1 552.3,570.4 552.3,569.7 552.3,569.0 552.3,568.3 552.3,567.6 552.3,566.9 552.3,566.2 552.3,565.4 552.3,564.7 552.3,564.0 552.3,563.3 552.3,562.6 552.3,561.9 552.3,561.2 552.3,560.5 552.3,559.8 552.4,559.1 552.4,558.4 552.5,557.7 552.5,557.0 552.6,556.3 552.7,555.6 552.7,554.9 552.8,554.2 552.9,553.5 552.9,552.8 553.0,552.1 553.0,551.4 553.1,550.7 553.2,550.0 553.2,549.3 553.3,548.6 553.5,547.9 553.6,547.2 553.8,546.5 554.0,545.8 554.2,545.1 554.3,544.5 554.5,543.8 554.7,543.1 554.9,542.4 555.0,541.7 555.2,541.0 555.4,540.3 555.8,539.4 556.1,538.7 556.5,537.8 556.8,536.9 557.1,536.6 557.5,536.0 557.9,535.0 558.2,534.7 558.6,533.3 559.0,533.0 559.4,532.1 559.7,531.4 560.1,531.0 560.5,530.2 560.9,529.8 561.3,529.1 561.7,527.9 562.1,528.0 562.5,526.9 562.9,526.9 563.3,526.3 563.8,525.2 564.2,524.9 564.6,523.9 565.0,524.0 565.4,522.6 565.8,522.8 566.3,521.7 566.9,521.2 567.4,521.4 568.0,520.8 568.5,519.7 569.1,519.3 569.6,519.0 570.2,518.3 570.7,518.6 571.3,517.4 571.9,515.8 572.5,516.5 573.1,516.4 573.7,515.9 574.3,515.3 574.9,515.1 575.5,514.4 576.1,513.6 576.7,514.0 577.3,513.4 578.0,513.0 578.6,512.2 579.2,512.6 579.8,512.3 580.0,511.6 580.2,510.9 580.4,510.2 580.6,509.5 580.8,508.8 581.1,508.2 581.3,507.5 581.5,506.8 581.7,506.1 581.9,505.4 582.2,504.7 582.6,503.5 583.0,503.2 583.3,502.9 583.6,502.0 584.0,501.1 584.4,501.0 584.7,500.5 585.2,499.2 585.6,498.8 586.1,498.4 586.5,498.3 586.8,499.1 587.1,500.4 587.5,501.2 588.2,500.7 588.9,500.4 589.6,500.6 590.3,500.6 591.0,500.4 591.7,501.1 592.4,501.0 593.1,501.2 593.8,500.7 594.5,501.2 595.2,501.5 595.9,501.7 596.5,501.4 597.2,502.1 597.9,501.8 598.6,502.6 599.3,501.5 600.0,501.1 600.7,501.3 601.4,500.7 602.1,500.8 602.8,500.5 603.3,499.5 603.8,497.6 604.4,498.4 604.9,498.1 605.6,497.9 606.3,497.8 607.0,497.7 607.7,498.2 608.4,498.7 608.4,568.2 607.7,569.2 607.0,570.8 606.3,569.5 605.6,569.7 604.9,570.1 604.2,569.9 603.5,570.6 602.8,570.6 602.1,571.0 601.4,570.6 600.7,571.1 600.0,571.1 599.3,571.2 598.6,570.7 597.9,571.3 597.2,571.8 596.5,571.4 595.8,572.2 595.2,572.1 594.5,572.3 593.8,572.2 593.1,572.4 592.4,572.8 591.7,572.4 591.0,573.4 590.3,573.2 589.6,573.2 588.9,574.0 588.2,573.8 587.5,573.8 587.1,574.8 586.7,575.6 586.3,575.9 585.9,576.7 585.5,577.6 585.1,577.5 584.7,578.0 584.4,579.1 584.0,580.0 583.6,580.6 583.3,581.3 583.0,581.6 582.6,582.4 582.2,583.4 581.9,583.5 581.3,584.4 580.7,584.3 580.1,584.8 579.5,585.4 578.9,586.2 578.3,586.4 577.7,586.3 577.0,587.1 576.3,588.8 575.6,587.7 574.9,587.7 574.2,588.1 573.5,587.7 572.8,588.2 572.1,588.6 571.4,588.9 570.7,591.5 570.0,590.0 569.3,590.4 568.6,592.8 567.9,590.5 567.4,591.0 566.9,592.0 566.3,592.1 565.8,593.0 565.3,593.2 564.8,595.3 564.2,594.4 563.7,594.7 563.2,595.3 562.7,596.1 562.1,596.7 561.6,597.5 561.1,597.8 560.5,598.1 560.0,599.2 559.5,598.9 559.1,600.3 558.7,602.7 558.3,600.9 558.0,601.6 557.6,602.5 557.2,602.5 556.8,603.1 556.5,604.0 556.2,605.3 556.0,607.0 555.7,606.6 555.4,607.1 555.1,607.3 554.8,608.1 554.6,609.1 554.3,610.1 554.0,610.1" fill="#6cc7fa" />
<polygon points="618.3,617.7 619.0,576.6 621.1,559.8 623.2,543.0 625.9,524.9 629.0,508.5 634.3,491.4 639.2,476.1 645.5,466.3 649.7,461.4 652.5,461.8 660.8,457.2 670.6,453.5 670.6,489.3 665.0,491.4 658.1,494.2 652.5,497.0 646.9,501.2 642.0,508.2 638.5,516.5 634.3,527.7 630.1,537.5 624.5,559.8 621.8,587.7 619.7,617.0" fill="#000" />
<rect x="405.0" y="433.6" width="278.5" height="208.8" fill="none" stroke="#4a4a4a" stroke-width="1.3"/>
<text x="513.0" y="446.1" font-size="10.7" font-weight="bold" text-anchor="start" fill="#111"  stroke="#111" stroke-width="0.2">135 % Strain-EGaIn content: 55 %</text>
<text x="416.0" y="626.4" font-size="12.5" font-weight="bold" text-anchor="start" fill="#111"  stroke="#111" stroke-width="0.2">2000 rpm</text>
<text x="490.4" y="626.4" font-size="12.5" font-weight="bold" text-anchor="start" fill="#111"  stroke="#111" stroke-width="0.2">1500 rpm</text>
<text x="562.6" y="626.4" font-size="12.5" font-weight="bold" text-anchor="start" fill="#111"  stroke="#111" stroke-width="0.2">1000 rpm</text>
<text x="633.8" y="626.4" font-size="12.5" font-weight="bold" text-anchor="start" fill="#111"  stroke="#111" stroke-width="0.2">800 rpm</text>
<text transform="translate(372.9,537.6) rotate(-90)" font-size="14.4" font-weight="bold" text-anchor="middle" fill="#111" stroke="#111" stroke-width="0.2">Resistance (Ω)</text>
<text x="543.7" y="673.7" font-size="14.7" font-weight="bold" text-anchor="middle" fill="#111"  stroke="#111" stroke-width="0.2">Time (s)</text>
<text x="10.4" y="701.0" font-size="20" font-weight="bold" text-anchor="start" fill="#000"  stroke="#000" stroke-width="0.2">d</text>
<text x="59.7" y="903.9" font-size="10.6" font-weight="bold" text-anchor="middle" fill="#111"  stroke="#111" stroke-width="0.2">10</text>
<line x1="79.4" y1="890.0" x2="79.4" y2="887.7" stroke="#4a4a4a" stroke-width="0.8" />
<line x1="99.0" y1="890.0" x2="99.0" y2="886.0" stroke="#4a4a4a" stroke-width="1" />
<text x="99.0" y="903.9" font-size="10.6" font-weight="bold" text-anchor="middle" fill="#111"  stroke="#111" stroke-width="0.2">20</text>
<line x1="118.7" y1="890.0" x2="118.7" y2="887.7" stroke="#4a4a4a" stroke-width="0.8" />
<line x1="138.3" y1="890.0" x2="138.3" y2="886.0" stroke="#4a4a4a" stroke-width="1" />
<text x="138.3" y="903.9" font-size="10.6" font-weight="bold" text-anchor="middle" fill="#111"  stroke="#111" stroke-width="0.2">30</text>
<line x1="157.9" y1="890.0" x2="157.9" y2="887.7" stroke="#4a4a4a" stroke-width="0.8" />
<line x1="177.6" y1="890.0" x2="177.6" y2="886.0" stroke="#4a4a4a" stroke-width="1" />
<text x="177.6" y="903.9" font-size="10.6" font-weight="bold" text-anchor="middle" fill="#111"  stroke="#111" stroke-width="0.2">40</text>
<line x1="197.2" y1="890.0" x2="197.2" y2="887.7" stroke="#4a4a4a" stroke-width="0.8" />
<line x1="216.9" y1="890.0" x2="216.9" y2="886.0" stroke="#4a4a4a" stroke-width="1" />
<text x="216.9" y="903.9" font-size="10.6" font-weight="bold" text-anchor="middle" fill="#111"  stroke="#111" stroke-width="0.2">50</text>
<line x1="236.6" y1="890.0" x2="236.6" y2="887.7" stroke="#4a4a4a" stroke-width="0.8" />
<line x1="256.2" y1="890.0" x2="256.2" y2="886.0" stroke="#4a4a4a" stroke-width="1" />
<text x="256.2" y="903.9" font-size="10.6" font-weight="bold" text-anchor="middle" fill="#111"  stroke="#111" stroke-width="0.2">60</text>
<line x1="275.9" y1="890.0" x2="275.9" y2="887.7" stroke="#4a4a4a" stroke-width="0.8" />
<line x1="295.5" y1="890.0" x2="295.5" y2="886.0" stroke="#4a4a4a" stroke-width="1" />
<text x="295.5" y="903.9" font-size="10.6" font-weight="bold" text-anchor="middle" fill="#111"  stroke="#111" stroke-width="0.2">70</text>
<line x1="315.2" y1="890.0" x2="315.2" y2="887.7" stroke="#4a4a4a" stroke-width="0.8" />
<text x="334.8" y="903.9" font-size="10.6" font-weight="bold" text-anchor="middle" fill="#111"  stroke="#111" stroke-width="0.2">80</text>
<polyline points="59.7,874.0 60.1,873.8 60.5,873.6 60.9,873.9 61.3,874.1 61.7,873.7 62.1,873.9 62.5,873.6 62.8,873.5 63.2,873.4 63.6,873.3 64.0,873.5 64.4,873.2 64.8,872.8 65.2,872.9 65.6,872.8 66.0,872.9 66.4,872.7 66.8,872.6 67.2,872.0 67.6,872.5 68.0,872.6 68.4,871.7 68.8,872.5 69.1,872.1 69.5,871.8 69.9,871.2 70.3,872.0 70.7,871.3 71.1,871.4 71.5,871.6 71.9,871.0 72.3,870.9 72.7,870.8 73.1,871.0 73.5,871.1 73.9,871.0 74.3,870.9 74.7,870.6 75.0,870.6 75.4,870.3 75.8,871.0 76.2,870.4 76.6,869.6 77.0,869.8 77.4,870.5 77.8,869.5 78.2,869.6 78.6,869.8 79.0,869.2 79.4,869.7 79.8,869.8 80.2,868.9 80.6,869.4 81.0,868.7 81.3,868.5 81.7,868.8 82.1,868.6 82.5,868.3 82.9,868.6 83.3,867.8 83.7,867.8 84.1,867.7 84.5,868.1 84.9,868.0 85.3,867.9 85.7,867.2 86.1,867.5 86.5,867.5 86.9,866.8 87.2,866.9 87.6,867.3 88.0,867.2 88.4,867.0 88.8,867.0 89.2,866.9 89.6,866.8 90.0,866.6 90.4,866.4 90.8,866.5 91.2,866.4 91.6,867.2 92.0,866.6 92.4,866.5 92.8,866.4 93.2,866.5 93.5,866.5 93.9,866.7 94.3,866.6 94.7,866.9 95.1,866.6 95.5,867.0 95.9,867.2 96.3,866.7 96.7,867.2 97.1,867.4 97.5,867.3 97.9,867.4 98.3,867.2 98.7,868.2 99.1,867.8 99.4,867.8 99.8,868.5 100.2,868.0 100.6,869.0 101.0,869.0 101.4,869.2 101.8,869.1 102.2,869.0 102.6,868.9 103.0,870.1 103.4,869.6 103.8,869.8 104.2,870.6 104.6,870.1 105.0,870.5 105.4,870.7 105.7,870.9 106.1,870.9 106.5,871.2 106.9,872.0 107.3,872.1 107.7,871.2 108.1,871.7 108.5,872.6 108.9,872.7 109.3,872.8 109.7,873.5 110.1,872.8 110.5,873.9 110.9,873.8 111.3,874.1 111.7,874.2 112.0,874.5 112.4,874.3 112.8,874.4 113.2,874.9 113.6,874.9 114.0,874.6 114.4,875.6 114.8,875.7 115.2,875.9 115.6,875.6 116.0,875.9 116.4,875.8 116.8,875.8 117.2,876.2 117.6,876.3 117.9,876.2 118.3,877.1 118.7,876.1 119.1,876.4 119.5,876.6 119.9,877.2 120.3,876.8 120.7,876.8 121.1,876.6 121.5,876.7 121.9,876.5 122.3,877.2 122.7,877.1 123.1,877.2 123.5,876.7 123.9,877.7 124.2,876.7 124.6,876.3 125.0,876.9 125.4,877.0 125.8,877.2 126.2,876.7 126.6,877.2 127.0,877.5 127.4,876.7 127.8,876.8 128.2,876.5 128.6,877.1 129.0,877.3 129.4,877.2 129.8,877.2 130.1,877.4 130.5,877.0 130.9,877.3 131.3,876.7 131.7,876.7 132.1,877.0 132.5,876.6 132.9,877.0 133.3,877.2 133.7,876.9 134.1,876.5 134.5,876.5 134.9,877.1 135.3,876.4 135.7,876.6 136.1,876.4 136.4,876.5 136.8,876.7 137.2,876.2 137.6,875.9 138.0,876.7 138.4,876.2 138.8,876.3 139.2,876.0 139.6,876.1 140.0,876.2 140.4,876.1 140.8,875.4 141.2,875.2 141.6,875.3 142.0,875.0 142.3,874.9 142.7,874.3 143.1,873.6 143.5,874.2 143.9,874.1 144.3,873.8 144.7,873.9 145.1,873.4 145.5,872.8 145.9,873.0 146.3,872.4 146.7,872.5 147.1,871.9 147.5,871.6 147.9,871.2 148.3,870.7 148.6,869.9 149.0,869.9 149.4,868.8 149.8,869.2 150.2,869.0 150.6,868.9 151.0,868.0 151.4,867.3 151.8,866.7 152.2,867.5 152.6,866.2 153.0,866.5 153.4,865.3 153.8,865.6 154.2,865.5 154.5,865.1 154.9,864.7 155.3,864.2 155.7,863.9 156.1,864.2 156.5,863.9 156.9,863.5 157.3,863.5 157.7,863.1 158.1,863.7 158.5,863.8 158.9,863.2 159.3,863.6 159.7,864.0 160.1,863.6 160.5,864.5 160.8,864.5 161.2,864.2 161.6,864.7 162.0,865.1 162.4,864.4 162.8,865.2 163.2,865.2 163.6,865.3 164.0,865.8 164.4,865.6 164.8,865.6 165.2,865.9 165.6,866.6 166.0,867.1 166.4,867.2 166.7,867.4 167.1,867.8 167.5,868.5 167.9,868.5 168.3,868.4 168.7,868.8 169.1,869.5 169.5,869.2 169.9,869.5 170.3,869.7 170.7,869.6 171.1,870.4 171.5,869.6 171.9,870.9 172.3,870.5 172.7,870.4 173.0,871.0 173.4,870.6 173.8,871.4 174.2,871.6 174.6,871.3 175.0,871.5 175.4,872.0 175.8,871.7 176.2,872.0 176.6,872.2 177.0,872.7 177.4,872.1 177.8,872.4 178.2,872.8 178.6,871.7 178.9,872.5 179.3,872.0 179.7,872.1 180.1,873.3 180.5,872.8 180.9,873.2 181.3,872.8 181.7,873.0 182.1,872.8 182.5,872.8 182.9,872.9 183.3,873.0 183.7,873.5 184.1,873.0 184.5,873.2 184.9,873.0 185.2,873.2 185.6,872.8 186.0,873.5 186.4,873.0 186.8,873.2 187.2,873.2 187.6,873.6 188.0,873.5 188.4,873.3 188.8,873.4 189.2,873.5 189.6,873.6 190.0,873.6 190.4,873.9 190.8,874.0 191.1,873.7 191.5,873.2 191.9,874.1 192.3,874.3 192.7,873.5 193.1,873.6 193.5,873.1 193.9,874.0 194.3,873.5 194.7,874.3 195.1,873.1 195.5,873.9 195.9,874.1 196.3,873.8 196.7,873.7 197.1,874.1 197.4,873.9 197.8,874.0 198.2,874.1 198.6,874.0 199.0,874.1 199.4,874.5 199.8,874.2 200.2,874.4 200.6,874.2 201.0,874.7 201.4,874.1 201.8,874.9 202.2,873.8 202.6,874.5 203.0,874.4 203.4,875.3 203.7,875.2 204.1,874.8 204.5,875.1 204.9,875.8 205.3,875.5 205.7,875.8 206.1,875.3 206.5,875.4 206.9,876.1 207.3,876.8 207.7,876.0 208.1,876.4 208.5,876.1 208.9,876.8 209.3,876.4 209.6,876.5 210.0,876.1 210.4,876.7 210.8,877.0 211.2,877.4 211.6,876.7 212.0,877.5 212.4,877.2 212.8,877.3 213.2,877.2 213.6,877.0 214.0,877.3 214.4,878.2 214.8,877.5 215.2,877.8 215.6,878.3 215.9,877.4 216.3,878.3 216.7,878.0 217.1,878.3 217.5,878.6 217.9,878.3 218.3,878.3 218.7,878.6 219.1,878.6 219.5,878.3 219.9,878.4 220.3,878.1 220.7,878.9 221.1,878.2 221.5,878.6 221.8,879.1 222.2,878.8 222.6,878.5 223.0,878.4 223.4,878.4 223.8,878.9 224.2,878.7 224.6,878.6 225.0,879.4 225.4,878.4 225.8,878.5 226.2,878.6 226.6,878.7 227.0,878.8 227.4,878.6 227.8,878.9 228.1,878.9 228.5,878.6 228.9,878.0 229.3,879.0 229.7,878.5 230.1,878.5 230.5,878.7 230.9,878.4 231.3,878.5 231.7,878.8 232.1,878.7 232.5,878.9 232.9,878.5 233.3,878.7 233.7,878.4 234.0,878.7 234.4,878.9 234.8,878.7 235.2,878.3 235.6,878.7 236.0,878.8 236.4,879.1 236.8,878.8 237.2,878.7 237.6,878.4 238.0,879.4 238.4,878.5 238.8,878.4 239.2,878.7 239.6,878.2 240.0,879.1 240.3,878.8 240.7,878.9 241.1,878.5 241.5,878.6 241.9,879.0 242.3,879.0 242.7,879.6 243.1,879.1 243.5,878.2 243.9,878.8 244.3,878.7 244.7,879.1 245.1,878.8 245.5,878.9 245.9,878.7 246.2,879.0 246.6,879.2 247.0,878.6 247.4,878.2 247.8,878.5 248.2,879.3 248.6,878.8 249.0,878.7 249.4,878.5 249.8,879.1 250.2,878.9 250.6,878.8 251.0,878.6 251.4,878.7 251.8,878.7 252.2,879.0 252.5,879.2 252.9,878.2 253.3,878.3 253.7,878.8 254.1,878.8 254.5,878.3 254.9,878.6 255.3,878.7 255.7,878.7 256.1,878.6 256.5,878.8 256.9,879.0 257.3,879.0 257.7,879.0 258.1,878.9 258.4,878.6 258.8,878.6 259.2,879.0 259.6,878.8 260.0,879.0 260.4,878.9 260.8,878.8 261.2,878.9 261.6,878.3 262.0,878.8 262.4,878.6 262.8,879.1 263.2,878.6 263.6,878.9 264.0,878.7 264.4,879.0 264.7,879.0 265.1,878.8 265.5,878.9 265.9,878.9 266.3,879.1 266.7,878.7 267.1,878.8 267.5,878.7 267.9,878.6 268.3,878.9 268.7,879.0 269.1,878.6 269.5,879.3 269.9,878.6 270.3,879.1 270.6,879.0 271.0,878.4 271.4,878.9 271.8,878.4 272.2,878.9 272.6,879.1 273.0,879.5 273.4,879.1 273.8,878.4 274.2,878.8 274.6,879.4 275.0,879.0 275.4,879.5 275.8,878.7 276.2,878.8 276.6,878.5 276.9,878.8 277.3,879.3 277.7,878.7 278.1,879.2 278.5,879.1 278.9,879.2 279.3,878.9 279.7,879.0 280.1,879.6 280.5,878.6 280.9,879.2 281.3,879.5 281.7,879.1 282.1,879.5 282.5,878.1 282.8,878.9 283.2,878.7 283.6,878.9 284.0,879.0 284.4,879.2 284.8,878.8 285.2,879.3 285.6,878.6 286.0,879.4 286.4,879.0 286.8,878.5 287.2,878.5 287.6,878.5 288.0,878.8 288.4,879.1 288.8,879.5 289.1,879.3 289.5,878.7 289.9,878.4 290.3,879.0 290.7,878.7 291.1,879.1 291.5,878.9 291.9,879.9 292.3,878.6 292.7,879.2 293.1,879.7 293.5,879.0 293.9,878.9 294.3,879.7 294.7,878.5 295.1,878.6 295.4,878.8 295.8,879.3 296.2,879.4 296.6,879.1 297.0,879.8 297.4,879.1 297.8,879.2 298.2,879.1 298.6,879.6 299.0,879.2 299.4,879.1 299.8,879.7 300.2,879.6 300.6,879.5 301.0,878.8 301.3,878.9 301.7,879.2 302.1,879.1 302.5,879.1 302.9,879.2 303.3,879.4 303.7,878.9 304.1,879.3 304.5,879.1 304.9,879.1 305.3,879.2 305.7,879.5 306.1,879.4 306.5,879.0 306.9,879.4 307.3,879.3 307.6,879.4 308.0,879.2 308.4,879.6 308.8,879.4 309.2,879.0 309.6,878.9 310.0,878.9 310.4,879.4 310.8,879.1 311.2,879.2 311.6,879.3 312.0,879.7 312.4,880.0 312.8,879.3 313.2,879.9 313.5,879.5 313.9,879.7 314.3,879.3 314.7,879.0 315.1,879.5 315.5,879.8 315.9,878.9 316.3,879.4 316.7,879.4 317.1,879.6 317.5,879.1 317.9,879.2 318.3,879.7 318.7,879.9 319.1,879.4 319.5,879.7 319.8,879.4 320.2,879.5 320.6,879.3 321.0,879.3 321.4,879.2 321.8,879.4 322.2,879.7 322.6,879.5 323.0,879.6 323.4,879.2 323.8,879.6 324.2,878.5 324.6,879.0 325.0,879.3 325.4,878.9 325.7,879.6 326.1,879.5 326.5,879.2 326.9,879.5 327.3,879.0 327.7,879.2 328.1,879.3 328.5,879.0 328.9,879.8 329.3,879.3 329.7,879.8 330.1,879.4 330.5,879.6 330.9,879.2 331.3,879.4 331.7,879.4 332.0,879.6 332.4,879.9 332.8,879.3 333.2,879.4 333.6,879.6 334.0,879.8 334.4,879.5 334.8,879.4" fill="none" stroke="#e0353a" stroke-width="0.8" />
<polyline points="59.7,827.2 60.1,825.2 60.5,824.1 60.9,821.7 61.3,822.0 61.7,821.0 62.1,820.4 62.5,819.0 62.8,818.6 63.2,817.3 63.6,815.7 64.0,816.6 64.4,815.7 64.8,815.4 65.2,813.1 65.6,811.8 66.0,810.7 66.4,808.9 66.8,810.2 67.2,807.4 67.6,806.4 68.0,806.3 68.4,806.9 68.8,804.8 69.1,802.7 69.5,802.0 69.9,802.3 70.3,800.6 70.7,799.1 71.1,798.6 71.5,798.6 71.9,798.8 72.3,794.7 72.7,794.3 73.1,793.1 73.5,790.5 73.9,791.0 74.3,789.9 74.7,791.1 75.0,788.7 75.4,786.1 75.8,787.4 76.2,785.3 76.6,782.7 77.0,782.9 77.4,781.8 77.8,780.4 78.2,780.4 78.6,776.8 79.0,778.0 79.4,778.4 79.8,777.3 80.2,776.7 80.6,775.8 81.0,775.4 81.3,771.6 81.7,773.1 82.1,769.2 82.5,769.9 82.9,767.6 83.3,770.4 83.7,770.1 84.1,767.6 84.5,769.3 84.9,765.7 85.3,766.1 85.7,765.5 86.1,763.4 86.5,764.7 86.9,766.0 87.2,761.8 87.6,763.7 88.0,761.9 88.4,763.9 88.8,761.8 89.2,761.6 89.6,761.1 90.0,760.2 90.4,757.7 90.8,760.7 91.2,756.6 91.6,758.1 92.0,758.2 92.4,756.3 92.8,757.6 93.2,759.0 93.5,757.8 93.9,757.0 94.3,754.8 94.7,757.6 95.1,758.5 95.5,759.1 95.9,759.2 96.3,761.5 96.7,761.1 97.1,762.4 97.5,764.2 97.9,763.3 98.3,765.0 98.7,769.2 99.1,768.9 99.4,767.7 99.8,770.5 100.2,772.8 100.6,775.1 101.0,775.4 101.4,776.2 101.8,777.6 102.2,780.7 102.6,781.9 103.0,782.6 103.4,784.5 103.8,785.9 104.2,788.7 104.6,789.0 105.0,791.9 105.4,794.0 105.7,795.4 106.1,795.8 106.5,799.7 106.9,799.5 107.3,802.3 107.7,802.9 108.1,803.7 108.5,807.1 108.9,808.8 109.3,810.2 109.7,812.2 110.1,813.1 110.5,814.7 110.9,816.9 111.3,820.2 111.7,820.9 112.0,821.5 112.4,823.8 112.8,824.5 113.2,825.9 113.6,828.2 114.0,828.3 114.4,828.7 114.8,830.4 115.2,832.2 115.6,833.4 116.0,835.3 116.4,835.0 116.8,837.0 117.2,837.8 117.6,838.4 117.9,840.0 118.3,840.6 118.7,840.6 119.1,842.7 119.5,842.0 119.9,843.4 120.3,844.0 120.7,844.9 121.1,844.7 121.5,845.6 121.9,845.9 122.3,847.0 122.7,846.4 123.1,847.3 123.5,847.5 123.9,847.2 124.2,849.9 124.6,848.6 125.0,848.1 125.4,850.1 125.8,849.0 126.2,850.1 126.6,850.6 127.0,850.0 127.4,850.4 127.8,850.6 128.2,851.1 128.6,850.5 129.0,851.0 129.4,851.8 129.8,852.7 130.1,852.7 130.5,853.6 130.9,853.2 131.3,852.8 131.7,853.2 132.1,852.4 132.5,853.2 132.9,853.4 133.3,854.3 133.7,854.7 134.1,854.3 134.5,854.5 134.9,854.1 135.3,855.1 135.7,855.5 136.1,855.8 136.4,855.3 136.8,857.0 137.2,856.7 137.6,856.2 138.0,856.2 138.4,856.4 138.8,856.8 139.2,856.9 139.6,857.3 140.0,857.6 140.4,858.1 140.8,858.1 141.2,857.6 141.6,858.0 142.0,857.7 142.3,857.7 142.7,859.1 143.1,858.0 143.5,859.4 143.9,858.3 144.3,858.8 144.7,859.3 145.1,858.9 145.5,859.2 145.9,859.0 146.3,858.9 146.7,859.2 147.1,859.1 147.5,860.3 147.9,859.5 148.3,860.6 148.6,858.4 149.0,859.9 149.4,860.3 149.8,859.9 150.2,860.7 150.6,860.6 151.0,860.2 151.4,860.7 151.8,861.9 152.2,860.7 152.6,860.8 153.0,860.5 153.4,860.9 153.8,860.3 154.2,860.9 154.5,862.3 154.9,861.7 155.3,861.5 155.7,861.8 156.1,862.2 156.5,861.7 156.9,862.5 157.3,862.0 157.7,861.6 158.1,862.5 158.5,860.5 158.9,861.4 159.3,861.9 159.7,861.4 160.1,861.8 160.5,861.6 160.8,861.6 161.2,863.3 161.6,862.3 162.0,862.1 162.4,862.8 162.8,862.1 163.2,862.6 163.6,862.4 164.0,863.1 164.4,861.6 164.8,862.7 165.2,862.4 165.6,861.9 166.0,863.0 166.4,862.1 166.7,863.3 167.1,862.8 167.5,862.9 167.9,862.7 168.3,863.1 168.7,861.8 169.1,862.8 169.5,862.5 169.9,862.9 170.3,862.8 170.7,863.2 171.1,862.5 171.5,863.8 171.9,864.1 172.3,862.9 172.7,863.0 173.0,863.2 173.4,863.7 173.8,864.0 174.2,862.6 174.6,862.9 175.0,862.7 175.4,862.7 175.8,862.5 176.2,863.5 176.6,862.8 177.0,864.1 177.4,863.8 177.8,862.9 178.2,863.0 178.6,863.2 178.9,864.2 179.3,863.1 179.7,862.9 180.1,863.6 180.5,863.8 180.9,863.4 181.3,864.5 181.7,863.9 182.1,864.0 182.5,863.4 182.9,863.9 183.3,863.9 183.7,862.9 184.1,864.2 184.5,863.2 184.9,864.1 185.2,863.5 185.6,865.2 186.0,864.5 186.4,864.8 186.8,864.9 187.2,863.9 187.6,863.6 188.0,864.6 188.4,865.2 188.8,864.9 189.2,865.3 189.6,865.5 190.0,864.5 190.4,865.4 190.8,866.3 191.1,865.2 191.5,864.6 191.9,865.5 192.3,865.5 192.7,866.0 193.1,865.5 193.5,866.1 193.9,865.2 194.3,866.6 194.7,867.1 195.1,867.0 195.5,865.9 195.9,866.8 196.3,865.4 196.7,867.0 197.1,866.9 197.4,866.6 197.8,867.3 198.2,867.3 198.6,867.8 199.0,867.5 199.4,867.7 199.8,866.8 200.2,867.3 200.6,867.7 201.0,868.1 201.4,868.1 201.8,868.9 202.2,868.0 202.6,868.4 203.0,868.7 203.4,868.6 203.7,869.0 204.1,868.7 204.5,869.7 204.9,869.0 205.3,869.7 205.7,869.4 206.1,870.1 206.5,869.0 206.9,869.9 207.3,869.6 207.7,870.0 208.1,870.5 208.5,869.6 208.9,869.7 209.3,869.9 209.6,870.5 210.0,869.7 210.4,870.6 210.8,870.1 211.2,870.2 211.6,870.6 212.0,871.0 212.4,870.7 212.8,870.8 213.2,871.0 213.6,871.0 214.0,870.0 214.4,871.0 214.8,871.3 215.2,871.7 215.6,872.2 215.9,871.6 216.3,871.4 216.7,871.0 217.1,871.5 217.5,871.8 217.9,872.1 218.3,871.2 218.7,871.7 219.1,872.0 219.5,872.5 219.9,871.9 220.3,871.6 220.7,871.5 221.1,871.7 221.5,871.6 221.8,872.3 222.2,872.4 222.6,872.3 223.0,872.5 223.4,871.9 223.8,872.2 224.2,871.9 224.6,872.1 225.0,872.7 225.4,872.2 225.8,871.4 226.2,872.1 226.6,872.0 227.0,871.7 227.4,872.0 227.8,872.7 228.1,873.0 228.5,872.2 228.9,872.8 229.3,872.9 229.7,872.0 230.1,872.5 230.5,872.5 230.9,872.6 231.3,871.9 231.7,872.4 232.1,873.0 232.5,873.1 232.9,873.4 233.3,872.5 233.7,873.4 234.0,873.0 234.4,872.2 234.8,873.0 235.2,872.6 235.6,873.0 236.0,872.7 236.4,873.3 236.8,872.9 237.2,872.7 237.6,873.2 238.0,873.0 238.4,872.7 238.8,873.4 239.2,872.8 239.6,872.7 240.0,872.7 240.3,872.4 240.7,872.8 241.1,873.8 241.5,872.7 241.9,873.1 242.3,872.6 242.7,872.8 243.1,873.7 243.5,873.5 243.9,872.9 244.3,873.2 244.7,872.8 245.1,872.9 245.5,872.8 245.9,872.9 246.2,873.4 246.6,873.5 247.0,873.5 247.4,873.2 247.8,872.8 248.2,873.3 248.6,873.0 249.0,873.8 249.4,873.6 249.8,873.7 250.2,873.3 250.6,872.8 251.0,873.9 251.4,874.0 251.8,873.0 252.2,873.6 252.5,874.1 252.9,873.2 253.3,874.4 253.7,873.5 254.1,873.3 254.5,874.3 254.9,873.9 255.3,873.5 255.7,874.1 256.1,873.0 256.5,874.6 256.9,873.5 257.3,874.0 257.7,873.8 258.1,874.1 258.4,874.3 258.8,873.7 259.2,874.3 259.6,873.9 260.0,873.8 260.4,874.0 260.8,873.7 261.2,873.8 261.6,874.5 262.0,874.1 262.4,874.7 262.8,874.4 263.2,873.9 263.6,873.5 264.0,874.0 264.4,874.4 264.7,874.4 265.1,874.1 265.5,874.8 265.9,873.8 266.3,874.0 266.7,874.5 267.1,875.4 267.5,874.7 267.9,874.2 268.3,874.8 268.7,874.9 269.1,875.0 269.5,874.5 269.9,874.4 270.3,874.7 270.6,874.9 271.0,875.4 271.4,875.6 271.8,874.5 272.2,874.6 272.6,874.8 273.0,874.8 273.4,875.1 273.8,875.1 274.2,875.0 274.6,875.5 275.0,874.9 275.4,874.6 275.8,874.4 276.2,874.6 276.6,874.6 276.9,874.3 277.3,875.3 277.7,875.2 278.1,874.9 278.5,874.8 278.9,874.5 279.3,874.8 279.7,875.9 280.1,874.4 280.5,875.3 280.9,875.5 281.3,875.3 281.7,875.2 282.1,875.6 282.5,874.9 282.8,875.6 283.2,875.9 283.6,875.0 284.0,875.1 284.4,875.5 284.8,875.8 285.2,876.0 285.6,875.7 286.0,875.2 286.4,875.1 286.8,875.6 287.2,875.7 287.6,875.1 288.0,875.6 288.4,875.7 288.8,876.0 289.1,875.3 289.5,875.9 289.9,875.2 290.3,875.5 290.7,875.7 291.1,876.3 291.5,877.0 291.9,875.9 292.3,876.0 292.7,876.2 293.1,875.3 293.5,876.1 293.9,875.4 294.3,876.5 294.7,876.4 295.1,876.1 295.4,875.6 295.8,876.6 296.2,876.0 296.6,876.0 297.0,876.2 297.4,875.3 297.8,876.2 298.2,876.4 298.6,876.2 299.0,876.1 299.4,875.7 299.8,876.3 300.2,876.2 300.6,876.1 301.0,875.9 301.3,876.5 301.7,876.6 302.1,876.3 302.5,876.5 302.9,876.7 303.3,876.8 303.7,876.3 304.1,876.1 304.5,876.1 304.9,876.3 305.3,876.5 305.7,876.6 306.1,876.1 306.5,876.4 306.9,875.9 307.3,876.8 307.6,876.2 308.0,876.5 308.4,876.1 308.8,876.3 309.2,876.1 309.6,877.1 310.0,876.6 310.4,876.4 310.8,876.1 311.2,876.2 311.6,876.7 312.0,877.1 312.4,876.0 312.8,876.2 313.2,876.5 313.5,876.3 313.9,875.9 314.3,876.6 314.7,876.9 315.1,876.0 315.5,876.7 315.9,877.0 316.3,877.0 316.7,876.5 317.1,877.5 317.5,876.9 317.9,876.4 318.3,877.1 318.7,876.3 319.1,877.0 319.5,876.2 319.8,877.0 320.2,876.5 320.6,877.2 321.0,877.0 321.4,876.9 321.8,876.8 322.2,877.2 322.6,876.1 323.0,877.0 323.4,877.0 323.8,877.0 324.2,877.2 324.6,878.2 325.0,876.9 325.4,877.2 325.7,876.9 326.1,877.5 326.5,876.2 326.9,877.6 327.3,876.7 327.7,876.1 328.1,876.5 328.5,876.9 328.9,877.0 329.3,877.0 329.7,877.3 330.1,877.0 330.5,877.0 330.9,876.2 331.3,877.2 331.7,877.4 332.0,876.9 332.4,876.4 332.8,876.6 333.2,877.7 333.6,876.8 334.0,876.8 334.4,876.8 334.8,877.4" fill="none" stroke="#2a2a2a" stroke-width="0.95" />
<rect x="59.7" y="688.3" width="275.9" height="201.7" fill="none" stroke="#4a4a4a" stroke-width="1.3"/>
<rect x="178.4" y="690.7" width="153.8" height="30.2" fill="#fff" stroke="#c8c8c8" stroke-width="0.9"/>
<line x1="180.0" y1="698.4" x2="204.5" y2="698.4" stroke="#e4e4e4" stroke-width="1" />
<line x1="180.0" y1="713.2" x2="204.5" y2="713.2" stroke="#f2a0a2" stroke-width="1" />
<text x="209.6" y="703.5" font-size="11.3" font-weight="bold" text-anchor="start" fill="#111"  stroke="#111" stroke-width="0.2">PBU only</text>
<text x="209.6" y="717.8" font-size="11.4" font-weight="bold" text-anchor="start" fill="#111"  stroke="#111" stroke-width="0.2">PBU-EGaIn composite</text>
<text transform="translate(50.6,789.8) rotate(-90)" font-size="14.6" font-weight="bold" text-anchor="middle" fill="#111" stroke="#111" stroke-width="0.2">Intensity (cps)</text>
<text x="182.0" y="921.3" font-size="14.6" font-weight="bold" fill="#111" stroke="#111" stroke-width="0.2">2θ(<tspan font-size="9.5" dy="-5.5">o</tspan><tspan dy="5.5">)</tspan></text>
<text x="351.0" y="701.4" font-size="20" font-weight="bold" text-anchor="start" fill="#000"  stroke="#000" stroke-width="0.2">e</text>
<rect x="409.1" y="882.5" width="13.2" height="7.9" fill="#6dc8fb" />
<rect x="441.5" y="844.2" width="13.2" height="46.2" fill="#6dc8fb" />
<rect x="490.3" y="844.2" width="13.2" height="46.2" fill="#6dc8fb" />
<rect x="506.5" y="851.9" width="13.2" height="38.5" fill="#6dc8fb" />
<rect x="522.7" y="851.9" width="13.2" height="38.5" fill="#6dc8fb" />
<rect x="539.0" y="798.3" width="13.2" height="92.1" fill="#6dc8fb" />
<rect x="555.2" y="706.5" width="13.2" height="183.9" fill="#6dc8fb" />
<rect x="571.5" y="798.3" width="13.2" height="92.1" fill="#6dc8fb" />
<rect x="587.7" y="828.9" width="13.2" height="61.5" fill="#6dc8fb" />
<rect x="603.9" y="767.7" width="13.2" height="122.7" fill="#6dc8fb" />
<rect x="620.2" y="828.9" width="13.2" height="61.5" fill="#6dc8fb" />
<rect x="636.4" y="859.5" width="13.2" height="30.9" fill="#6dc8fb" />
<rect x="652.7" y="882.5" width="13.2" height="7.9" fill="#6dc8fb" />
<line x1="391.9" y1="877.4" x2="394.2" y2="877.4" stroke="#4a4a4a" stroke-width="0.8" />
<text x="388.3" y="893.9" font-size="10.9" font-weight="bold" text-anchor="end" fill="#111"  stroke="#111" stroke-width="0.2">0</text>
<line x1="391.9" y1="864.6" x2="395.9" y2="864.6" stroke="#4a4a4a" stroke-width="1" />
<line x1="391.9" y1="851.9" x2="394.2" y2="851.9" stroke="#4a4a4a" stroke-width="0.8" />
<text x="388.3" y="868.4" font-size="10.9" font-weight="bold" text-anchor="end" fill="#111"  stroke="#111" stroke-width="0.2">10</text>
<line x1="391.9" y1="839.1" x2="395.9" y2="839.1" stroke="#4a4a4a" stroke-width="1" />
<line x1="391.9" y1="826.4" x2="394.2" y2="826.4" stroke="#4a4a4a" stroke-width="0.8" />
<text x="388.3" y="842.9" font-size="10.9" font-weight="bold" text-anchor="end" fill="#111"  stroke="#111" stroke-width="0.2">20</text>
<line x1="391.9" y1="813.6" x2="395.9" y2="813.6" stroke="#4a4a4a" stroke-width="1" />
<line x1="391.9" y1="800.9" x2="394.2" y2="800.9" stroke="#4a4a4a" stroke-width="0.8" />
<text x="388.3" y="817.4" font-size="10.9" font-weight="bold" text-anchor="end" fill="#111"  stroke="#111" stroke-width="0.2">30</text>
<line x1="391.9" y1="788.1" x2="395.9" y2="788.1" stroke="#4a4a4a" stroke-width="1" />
<line x1="391.9" y1="775.4" x2="394.2" y2="775.4" stroke="#4a4a4a" stroke-width="0.8" />
<text x="388.3" y="791.9" font-size="10.9" font-weight="bold" text-anchor="end" fill="#111"  stroke="#111" stroke-width="0.2">40</text>
<line x1="391.9" y1="762.6" x2="395.9" y2="762.6" stroke="#4a4a4a" stroke-width="1" />
<line x1="391.9" y1="749.9" x2="394.2" y2="749.9" stroke="#4a4a4a" stroke-width="0.8" />
<text x="388.3" y="766.4" font-size="10.9" font-weight="bold" text-anchor="end" fill="#111"  stroke="#111" stroke-width="0.2">50</text>
<line x1="391.9" y1="737.1" x2="395.9" y2="737.1" stroke="#4a4a4a" stroke-width="1" />
<line x1="391.9" y1="724.4" x2="394.2" y2="724.4" stroke="#4a4a4a" stroke-width="0.8" />
<text x="388.3" y="740.9" font-size="10.9" font-weight="bold" text-anchor="end" fill="#111"  stroke="#111" stroke-width="0.2">60</text>
<line x1="391.9" y1="711.6" x2="395.9" y2="711.6" stroke="#4a4a4a" stroke-width="1" />
<line x1="391.9" y1="698.9" x2="394.2" y2="698.9" stroke="#4a4a4a" stroke-width="0.8" />
<text x="388.3" y="715.4" font-size="10.9" font-weight="bold" text-anchor="end" fill="#111"  stroke="#111" stroke-width="0.2">70</text>
<text x="388.3" y="689.9" font-size="10.9" font-weight="bold" text-anchor="end" fill="#111"  stroke="#111" stroke-width="0.2">80</text>
<text x="391.3" y="903.6" font-size="10.9" font-weight="bold" text-anchor="middle" fill="#111"  stroke="#111" stroke-width="0.2">2</text>
<line x1="423.8" y1="890.4" x2="423.8" y2="888.1" stroke="#4a4a4a" stroke-width="0.8" />
<line x1="456.3" y1="890.4" x2="456.3" y2="886.4" stroke="#4a4a4a" stroke-width="1" />
<text x="456.3" y="903.6" font-size="10.9" font-weight="bold" text-anchor="middle" fill="#111"  stroke="#111" stroke-width="0.2">4</text>
<line x1="488.7" y1="890.4" x2="488.7" y2="888.1" stroke="#4a4a4a" stroke-width="0.8" />
<line x1="521.2" y1="890.4" x2="521.2" y2="886.4" stroke="#4a4a4a" stroke-width="1" />
<text x="521.2" y="903.6" font-size="10.9" font-weight="bold" text-anchor="middle" fill="#111"  stroke="#111" stroke-width="0.2">6</text>
<line x1="553.7" y1="890.4" x2="553.7" y2="888.1" stroke="#4a4a4a" stroke-width="0.8" />
<line x1="586.2" y1="890.4" x2="586.2" y2="886.4" stroke="#4a4a4a" stroke-width="1" />
<text x="586.2" y="903.6" font-size="10.9" font-weight="bold" text-anchor="middle" fill="#111"  stroke="#111" stroke-width="0.2">8</text>
<line x1="618.7" y1="890.4" x2="618.7" y2="888.1" stroke="#4a4a4a" stroke-width="0.8" />
<line x1="651.1" y1="890.4" x2="651.1" y2="886.4" stroke="#4a4a4a" stroke-width="1" />
<text x="651.1" y="903.6" font-size="10.9" font-weight="bold" text-anchor="middle" fill="#111"  stroke="#111" stroke-width="0.2">10</text>
<polyline points="399.9,882.2 401.3,882.2 402.7,882.2 404.1,882.2 405.4,882.2 406.8,882.2 408.2,882.2 409.6,882.2 411.0,882.2 412.4,882.2 413.7,882.2 415.1,882.2 416.5,882.2 417.9,882.2 419.3,882.2 420.7,882.2 422.1,882.2 423.4,882.2 424.8,882.2 426.2,882.2 427.6,882.2 429.0,882.2 430.4,882.2 431.8,882.2 433.1,882.2 434.5,882.1 435.9,882.1 437.3,882.1 438.7,882.1 440.1,882.1 441.4,882.1 442.8,882.0 444.2,882.0 445.6,882.0 447.0,881.9 448.4,881.9 449.8,881.8 451.1,881.8 452.5,881.7 453.9,881.7 455.3,881.6 456.7,881.5 458.1,881.4 459.5,881.3 460.8,881.2 462.2,881.1 463.6,880.9 465.0,880.8 466.4,880.6 467.8,880.4 469.1,880.2 470.5,880.0 471.9,879.8 473.3,879.5 474.7,879.2 476.1,878.9 477.5,878.5 478.8,878.1 480.2,877.7 481.6,877.3 483.0,876.8 484.4,876.2 485.8,875.7 487.2,875.1 488.5,874.4 489.9,873.7 491.3,872.9 492.7,872.1 494.1,871.3 495.5,870.3 496.8,869.4 498.2,868.3 499.6,867.2 501.0,866.0 502.4,864.8 503.8,863.5 505.2,862.1 506.5,860.6 507.9,859.1 509.3,857.5 510.7,855.8 512.1,854.1 513.5,852.3 514.8,850.4 516.2,848.4 517.6,846.4 519.0,844.3 520.4,842.1 521.8,839.9 523.2,837.6 524.5,835.3 525.9,832.9 527.3,830.4 528.7,827.9 530.1,825.4 531.5,822.8 532.9,820.2 534.2,817.6 535.6,814.9 537.0,812.3 538.4,809.6 539.8,807.0 541.2,804.4 542.5,801.8 543.9,799.2 545.3,796.7 546.7,794.2 548.1,791.7 549.5,789.4 550.9,787.1 552.2,784.8 553.6,782.7 555.0,780.7 556.4,778.7 557.8,776.9 559.2,775.2 560.6,773.7 561.9,772.2 563.3,770.9 564.7,769.8 566.1,768.7 567.5,767.9 568.9,767.2 570.2,766.7 571.6,766.3 573.0,766.1 574.4,766.0 575.8,766.1 577.2,766.4 578.6,766.8 579.9,767.4 581.3,768.2 582.7,769.1 584.1,770.1 585.5,771.4 586.9,772.7 588.2,774.2 589.6,775.8 591.0,777.6 592.4,779.4 593.8,781.4 595.2,783.4 596.6,785.6 597.9,787.9 599.3,790.2 600.7,792.6 602.1,795.0 603.5,797.5 604.9,800.1 606.3,802.7 607.6,805.3 609.0,807.9 610.4,810.6 611.8,813.2 613.2,815.9 614.6,818.5 615.9,821.1 617.3,823.7 618.7,826.3 620.1,828.8 621.5,831.3 622.9,833.7 624.3,836.1 625.6,838.4 627.0,840.7 628.4,842.9 629.8,845.0 631.2,847.1 632.6,849.1 634.0,851.1 635.3,852.9 636.7,854.7 638.1,856.4 639.5,858.1 640.9,859.7 642.3,861.2 643.6,862.6 645.0,863.9 646.4,865.2 647.8,866.4 649.2,867.6 650.6,868.7 652.0,869.7 653.3,870.7 654.7,871.6 656.1,872.4 657.5,873.2 658.9,874.0 660.3,874.6 661.7,875.3 663.0,875.9 664.4,876.4 665.8,877.0 667.2,877.4 668.6,877.9 670.0,878.3 671.3,878.6 672.7,879.0 674.1,879.3 675.5,879.6" fill="none" stroke="#e8262a" stroke-width="1.35" />
<rect x="391.9" y="685.3" width="291.2" height="205.1" fill="none" stroke="#4a4a4a" stroke-width="1.3"/>
<text transform="translate(371.0,788.5) rotate(-90)" font-size="14.3" font-weight="bold" text-anchor="middle" fill="#111" stroke="#111" stroke-width="0.2">Counts</text>
<text x="537.4" y="926.1" font-size="14.5" font-weight="bold" text-anchor="middle" fill="#111" stroke="#111" stroke-width="0.2">Diameter (μm)</text>
</g>
</svg></body></html>
